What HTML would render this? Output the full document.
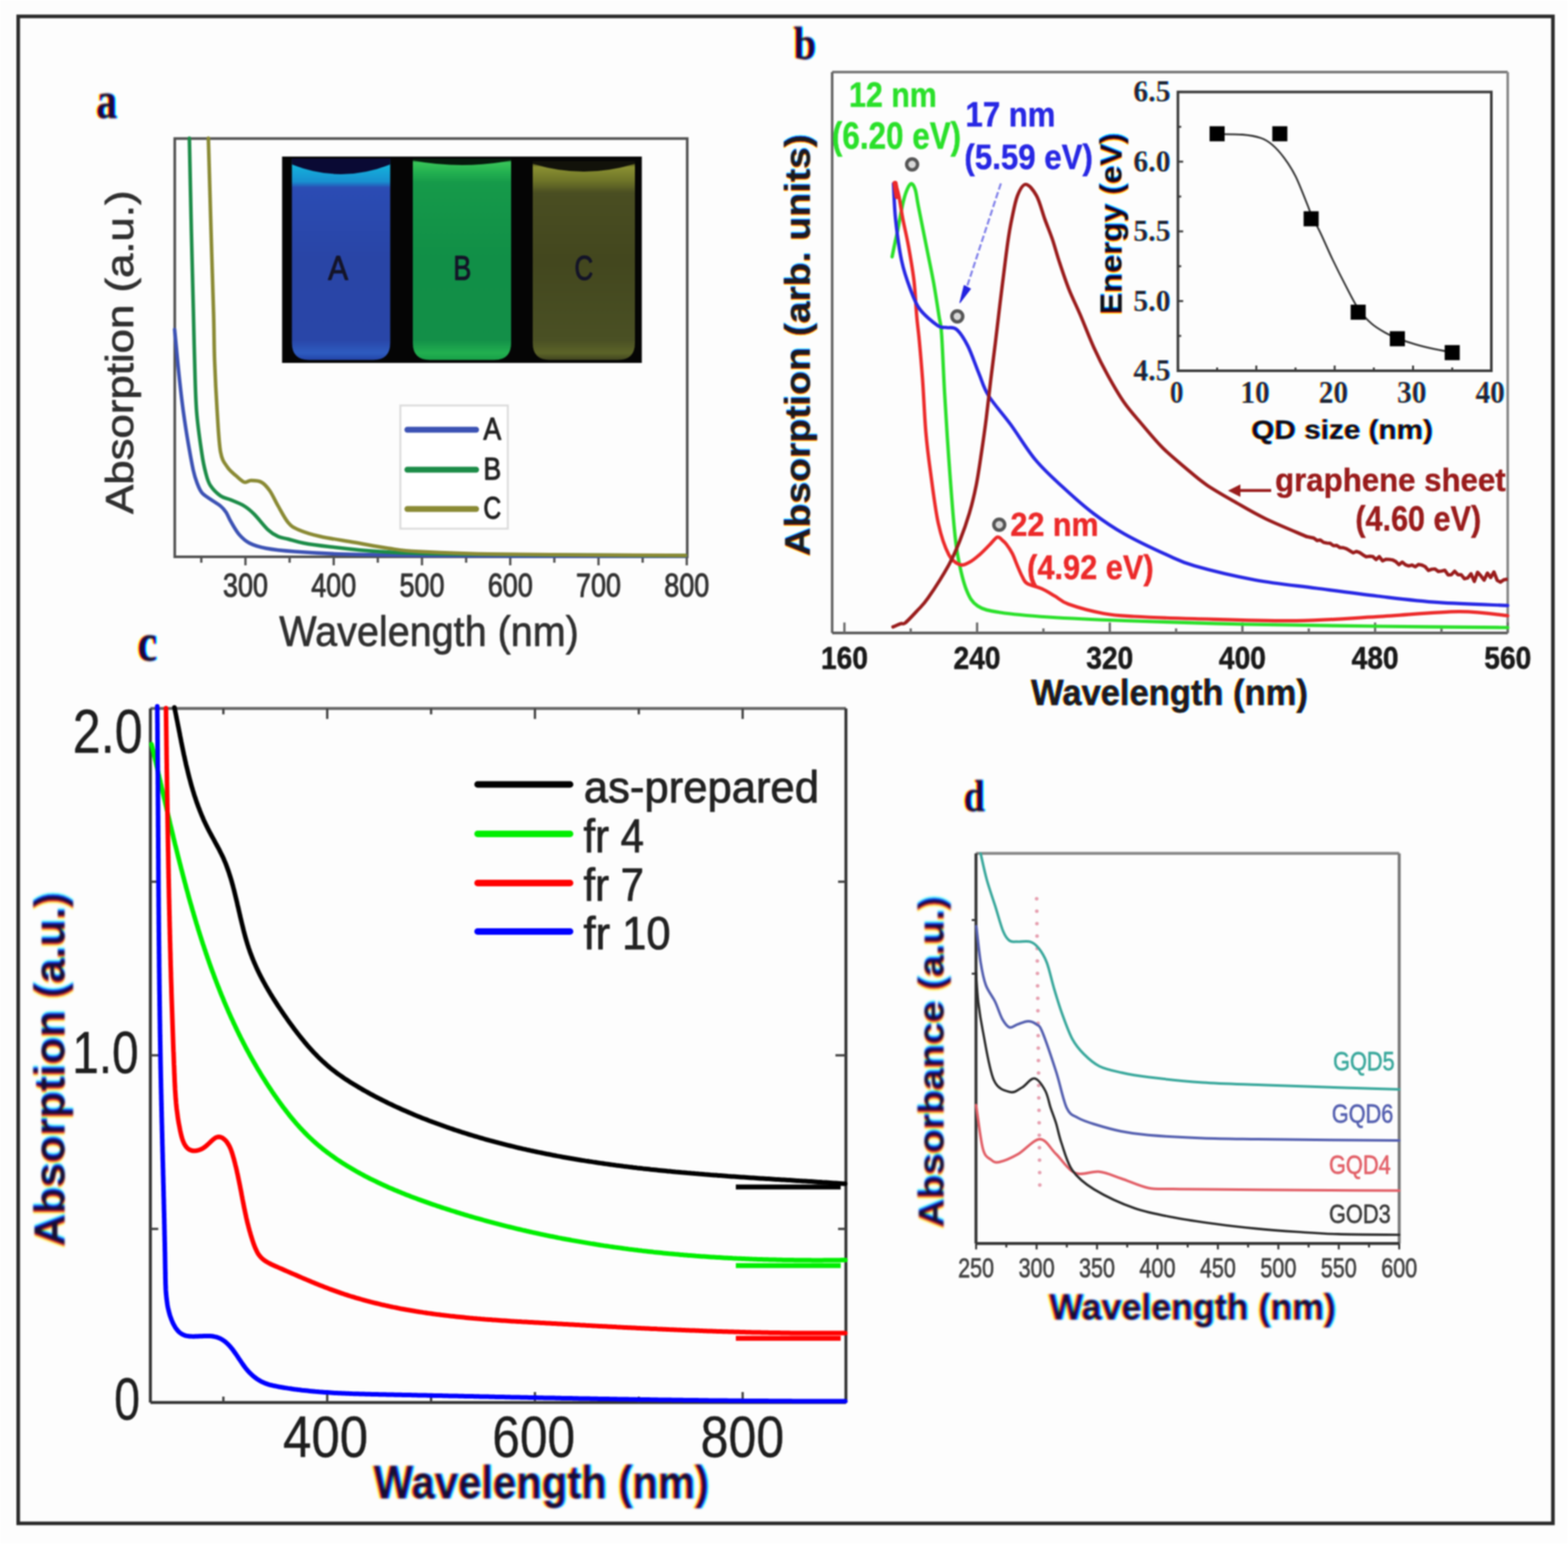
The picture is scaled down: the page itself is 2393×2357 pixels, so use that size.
<!DOCTYPE html>
<html><head><meta charset="utf-8"><title>Figure</title>
<style>
html,body{margin:0;padding:0;background:#fff;}
body{width:2393px;height:2357px;overflow:hidden;}
svg{display:block;filter:blur(1px);}
</style></head>
<body>
<svg width="2393" height="2357" viewBox="0 0 2393 2357">
<defs><filter id="blr" x="-5%" y="-20%" width="110%" height="140%"><feGaussianBlur stdDeviation="1.3"/></filter><filter id="blrB" x="-5%" y="-20%" width="110%" height="140%"><feGaussianBlur stdDeviation="0.8"/></filter><filter id="blrA" x="-5%" y="-20%" width="110%" height="140%"><feGaussianBlur stdDeviation="0.4"/></filter></defs>
<rect x="0" y="0" width="2393" height="2357" fill="#fdfdfd"/>
<rect x="27.8" y="25.0" width="2342.2" height="2300.5" fill="none" stroke="#2a2a2a" stroke-width="5.5" />
<g transform="translate(146.4,179.6)" font-family='"Liberation Serif", "Times New Roman", serif' font-weight="bold" font-size="77.19" >
<text x="0" y="0" transform="translate(2,0) scale(0.8344,1)" fill="rgb(20,255,255)" stroke="rgb(20,255,255)" stroke-width="0.80" stroke-linejoin="round" filter="url(#blrB)" style="mix-blend-mode:multiply">a</text>
<text x="0" y="0" transform="translate(0,0) scale(0.8344,1)" fill="rgb(255,15,255)" stroke="rgb(255,15,255)" stroke-width="0.80" stroke-linejoin="round" filter="url(#blrB)" style="mix-blend-mode:multiply">a</text>
<text x="0" y="0" transform="translate(-2,0) scale(0.8344,1)" fill="rgb(255,255,50)" stroke="rgb(255,255,50)" stroke-width="0.80" stroke-linejoin="round" filter="url(#blrB)" style="mix-blend-mode:multiply">a</text>
</g>
<rect x="430.5" y="239.0" width="549.0" height="315.0" fill="#050505" stroke="none" stroke-width="0" />
<defs><linearGradient id="gA" x1="0" y1="0" x2="0" y2="1">
<stop offset="0" stop-color="#0c0c38"/><stop offset="0.03" stop-color="#14b4dc"/><stop offset="0.115" stop-color="#1890d0"/><stop offset="0.145" stop-color="#2b4cb4"/><stop offset="0.5" stop-color="#2945a6"/><stop offset="0.9" stop-color="#2946a8"/><stop offset="0.965" stop-color="#2e5cc0"/><stop offset="1" stop-color="#2444a8"/></linearGradient><linearGradient id="gB" x1="0" y1="0" x2="0" y2="1">
<stop offset="0" stop-color="#0a3018"/><stop offset="0.02" stop-color="#38c458"/><stop offset="0.07" stop-color="#22b050"/><stop offset="0.12" stop-color="#169a4a"/><stop offset="0.5" stop-color="#118f47"/><stop offset="0.9" stop-color="#138f48"/><stop offset="0.965" stop-color="#22b050"/><stop offset="1" stop-color="#18a048"/></linearGradient><linearGradient id="gC" x1="0" y1="0" x2="0" y2="1">
<stop offset="0" stop-color="#202008"/><stop offset="0.03" stop-color="#8a9032"/><stop offset="0.1" stop-color="#6e7428"/><stop offset="0.16" stop-color="#4a4e22"/><stop offset="0.5" stop-color="#43471e"/><stop offset="0.9" stop-color="#4a5024"/><stop offset="0.965" stop-color="#5c6428"/><stop offset="1" stop-color="#404420"/></linearGradient></defs>
<path d="M445.5,242 L595.5,242 L595.5,523.5 Q595.5,549.5 569.5,549.5 L471.5,549.5 Q445.5,549.5 445.5,523.5 Z" fill="url(#gA)"/>
<path d="M445.5,242 L595.5,242 L595.5,251 Q520.5,281 445.5,251 Z" fill="#0a0a34"/>
<path d="M630,242 L780,242 L780,523.5 Q780,549.5 754,549.5 L656,549.5 Q630,549.5 630,523.5 Z" fill="url(#gB)"/>
<path d="M630,242 L780,242 L780,245 Q705.0,259 630,245 Z" fill="#061a0c"/>
<path d="M813,246 L969,246 L969,523.5 Q969,549.5 943,549.5 L839,549.5 Q813,549.5 813,523.5 Z" fill="url(#gC)"/>
<path d="M813,246 L969,246 L969,250 Q891.0,274 813,250 Z" fill="#12120a"/>
<text x="0" y="0" transform="translate(500.8,427.2) scale(0.8739,1)" font-family='"Liberation Sans", Arial, sans-serif' font-weight="normal" font-size="52.33" fill="#141428" stroke="#141428" stroke-width="1.50" stroke-linejoin="round" >A</text>
<text x="0" y="0" transform="translate(691.8,427.2) scale(0.7879,1)" font-family='"Liberation Sans", Arial, sans-serif' font-weight="normal" font-size="52.33" fill="#141428" stroke="#141428" stroke-width="1.50" stroke-linejoin="round" >B</text>
<text x="0" y="0" transform="translate(876.8,427.2) scale(0.7654,1)" font-family='"Liberation Sans", Arial, sans-serif' font-weight="normal" font-size="51.58" fill="#141428" stroke="#141428" stroke-width="1.50" stroke-linejoin="round" >C</text>
<rect x="266.7" y="211.5" width="782.1" height="638.5" fill="none" stroke="#505050" stroke-width="4" />
<line x1="307.2" y1="850.0" x2="307.2" y2="859.0" stroke="#505050" stroke-width="3.5" />
<line x1="374.6" y1="850.0" x2="374.6" y2="863.0" stroke="#505050" stroke-width="3.5" />
<line x1="442.0" y1="850.0" x2="442.0" y2="859.0" stroke="#505050" stroke-width="3.5" />
<line x1="509.3" y1="850.0" x2="509.3" y2="863.0" stroke="#505050" stroke-width="3.5" />
<line x1="576.6" y1="850.0" x2="576.6" y2="859.0" stroke="#505050" stroke-width="3.5" />
<line x1="644.0" y1="850.0" x2="644.0" y2="863.0" stroke="#505050" stroke-width="3.5" />
<line x1="711.4" y1="850.0" x2="711.4" y2="859.0" stroke="#505050" stroke-width="3.5" />
<line x1="778.7" y1="850.0" x2="778.7" y2="863.0" stroke="#505050" stroke-width="3.5" />
<line x1="846.0" y1="850.0" x2="846.0" y2="859.0" stroke="#505050" stroke-width="3.5" />
<line x1="913.4" y1="850.0" x2="913.4" y2="863.0" stroke="#505050" stroke-width="3.5" />
<line x1="980.8" y1="850.0" x2="980.8" y2="859.0" stroke="#505050" stroke-width="3.5" />
<line x1="1048.1" y1="850.0" x2="1048.1" y2="863.0" stroke="#505050" stroke-width="3.5" />
<text x="0" y="0" transform="translate(340.3,911.3) scale(0.8297,1)" font-family='"Liberation Sans", Arial, sans-serif' font-weight="normal" font-size="49.57" fill="#333" stroke="#333" stroke-width="1.40" stroke-linejoin="round" >300</text>
<text x="0" y="0" transform="translate(475.0,911.3) scale(0.8297,1)" font-family='"Liberation Sans", Arial, sans-serif' font-weight="normal" font-size="49.57" fill="#333" stroke="#333" stroke-width="1.40" stroke-linejoin="round" >400</text>
<text x="0" y="0" transform="translate(609.7,911.3) scale(0.8297,1)" font-family='"Liberation Sans", Arial, sans-serif' font-weight="normal" font-size="49.57" fill="#333" stroke="#333" stroke-width="1.40" stroke-linejoin="round" >500</text>
<text x="0" y="0" transform="translate(744.4,911.3) scale(0.8297,1)" font-family='"Liberation Sans", Arial, sans-serif' font-weight="normal" font-size="49.57" fill="#333" stroke="#333" stroke-width="1.40" stroke-linejoin="round" >600</text>
<text x="0" y="0" transform="translate(879.1,911.3) scale(0.8297,1)" font-family='"Liberation Sans", Arial, sans-serif' font-weight="normal" font-size="49.57" fill="#333" stroke="#333" stroke-width="1.40" stroke-linejoin="round" >700</text>
<text x="0" y="0" transform="translate(1013.8,911.3) scale(0.8297,1)" font-family='"Liberation Sans", Arial, sans-serif' font-weight="normal" font-size="49.57" fill="#333" stroke="#333" stroke-width="1.40" stroke-linejoin="round" >800</text>
<text x="0" y="0" transform="translate(426.3,985.5) scale(0.9408,1)" font-family='"Liberation Sans", Arial, sans-serif' font-weight="normal" font-size="64.14" fill="#303030" stroke="#303030" stroke-width="1.00" stroke-linejoin="round" >Wavelength (nm)</text>
<text x="0" y="0" transform="translate(202.9,784.5) rotate(-90) scale(1.1266,1)" font-family='"Liberation Sans", Arial, sans-serif' font-weight="normal" font-size="59.31" fill="#303030" stroke="#303030" stroke-width="1.00" stroke-linejoin="round" >Absorption (a.u.)</text>
<rect x="611.0" y="619.0" width="164.0" height="188.0" fill="#fff" stroke="#dcdcdc" stroke-width="3" />
<line x1="621.7" y1="656.0" x2="726.6" y2="656.0" stroke="#3c52b4" stroke-width="9" stroke-linecap="round"/>
<text x="0" y="0" transform="translate(737.8,670.8) scale(0.8344,1)" font-family='"Liberation Sans", Arial, sans-serif' font-weight="normal" font-size="48.69" fill="#222" stroke="#222" stroke-width="1.50" stroke-linejoin="round" >A</text>
<line x1="621.7" y1="717.0" x2="726.6" y2="717.0" stroke="#1c8c48" stroke-width="9" stroke-linecap="round"/>
<text x="0" y="0" transform="translate(737.8,731.8) scale(0.8344,1)" font-family='"Liberation Sans", Arial, sans-serif' font-weight="normal" font-size="48.69" fill="#222" stroke="#222" stroke-width="1.50" stroke-linejoin="round" >B</text>
<line x1="621.7" y1="777.0" x2="726.6" y2="777.0" stroke="#8a8a34" stroke-width="9" stroke-linecap="round"/>
<text x="0" y="0" transform="translate(737.8,791.8) scale(0.7821,1)" font-family='"Liberation Sans", Arial, sans-serif' font-weight="normal" font-size="47.99" fill="#222" stroke="#222" stroke-width="1.50" stroke-linejoin="round" >C</text>
<path d="M266.5,503.0 C267.1,509.2 268.8,527.2 270.0,540.0 C271.2,552.8 272.4,565.4 274.0,580.0 C275.6,594.6 277.5,611.8 279.7,627.6 C281.9,643.4 284.4,659.9 287.0,675.0 C289.6,690.1 292.7,707.5 295.0,718.0 C297.3,728.5 298.8,732.3 301.0,738.0 C303.2,743.7 304.7,748.0 308.0,752.0 C311.3,756.0 316.2,758.6 321.0,762.0 C325.8,765.4 332.6,769.2 336.6,772.5 C340.6,775.8 342.4,778.1 345.0,782.0 C347.6,785.9 348.7,790.0 352.0,795.7 C355.3,801.4 360.2,810.5 365.0,816.0 C369.8,821.5 373.8,825.5 380.6,829.0 C387.4,832.5 394.4,834.8 406.0,837.0 C417.6,839.2 429.7,840.5 450.0,842.0 C470.3,843.5 494.7,845.0 528.0,846.0 C561.3,847.0 604.7,847.5 650.0,848.0 C695.3,848.5 734.0,848.8 800.0,849.0 C866.0,849.2 1005.0,849.0 1046.0,849.0" fill="none" stroke="#3c52b4" stroke-width="5.5" stroke-linejoin="round" stroke-linecap="round" />
<path d="M289.0,211.0 C289.5,234.2 291.0,306.8 292.0,350.0 C293.0,393.2 294.2,436.7 295.0,470.0 C295.8,503.3 296.2,523.7 297.0,550.0 C297.8,576.3 298.2,603.9 300.0,627.6 C301.8,651.3 305.7,676.3 308.0,692.0 C310.3,707.7 311.8,713.8 314.0,722.0 C316.2,730.2 317.2,735.2 321.0,741.0 C324.8,746.8 331.4,753.3 336.6,757.0 C341.8,760.7 346.0,760.4 352.0,763.0 C358.0,765.6 366.8,768.8 372.8,772.5 C378.8,776.2 382.0,779.0 388.0,785.0 C394.0,791.0 402.9,803.0 409.0,808.7 C415.1,814.4 419.3,816.6 424.5,819.0 C429.7,821.4 433.6,821.3 440.0,823.0 C446.4,824.7 452.7,827.1 463.0,829.0 C473.3,830.9 482.6,832.3 502.0,834.5 C521.5,836.7 546.7,840.1 579.7,842.0 C612.7,843.9 622.3,845.0 700.0,846.0 C777.7,847.0 988.3,847.7 1046.0,848.0" fill="none" stroke="#1c8c48" stroke-width="5.5" stroke-linejoin="round" stroke-linecap="round" />
<path d="M318.0,211.0 C318.7,234.2 320.7,305.2 322.0,350.0 C323.3,394.8 325.1,446.7 326.0,480.0 C326.9,513.3 326.6,525.4 327.5,550.0 C328.4,574.6 329.9,604.3 331.4,627.6 C332.9,650.9 334.0,675.8 336.6,690.0 C339.2,704.2 343.1,707.0 347.0,713.0 C350.9,719.0 355.7,722.2 360.0,726.0 C364.3,729.8 369.0,734.7 372.8,736.0 C376.6,737.3 378.7,733.6 383.0,733.6 C387.3,733.6 393.9,733.4 398.7,736.0 C403.5,738.6 407.3,742.9 411.6,749.0 C415.9,755.1 419.8,764.3 424.5,772.5 C429.2,780.7 434.8,792.0 440.0,798.0 C445.2,804.0 447.4,805.2 455.6,808.7 C463.8,812.2 474.8,815.8 489.0,819.0 C503.2,822.2 523.7,825.0 541.0,828.0 C558.3,831.0 576.2,834.7 592.7,837.0 C609.2,839.3 612.1,840.5 640.0,842.0 C667.9,843.5 692.3,845.0 760.0,846.0 C827.7,847.0 998.3,847.7 1046.0,848.0" fill="none" stroke="#8a8a34" stroke-width="5.5" stroke-linejoin="round" stroke-linecap="round" />
<g transform="translate(1210.9,89.6)" font-family='"Liberation Serif", "Times New Roman", serif' font-weight="bold" font-size="69.60" >
<text x="0" y="0" transform="translate(2,0) scale(0.8890,1)" fill="rgb(20,255,255)" stroke="rgb(20,255,255)" stroke-width="0.80" stroke-linejoin="round" filter="url(#blrB)" style="mix-blend-mode:multiply">b</text>
<text x="0" y="0" transform="translate(0,0) scale(0.8890,1)" fill="rgb(255,15,255)" stroke="rgb(255,15,255)" stroke-width="0.80" stroke-linejoin="round" filter="url(#blrB)" style="mix-blend-mode:multiply">b</text>
<text x="0" y="0" transform="translate(-2,0) scale(0.8890,1)" fill="rgb(255,255,50)" stroke="rgb(255,255,50)" stroke-width="0.80" stroke-linejoin="round" filter="url(#blrB)" style="mix-blend-mode:multiply">b</text>
</g>
<line x1="1270.0" y1="110.0" x2="2301.0" y2="110.0" stroke="#777" stroke-width="4" />
<line x1="2301.0" y1="110.0" x2="2301.0" y2="966.3" stroke="#888" stroke-width="4" />
<line x1="1270.0" y1="110.0" x2="1270.0" y2="966.3" stroke="#666" stroke-width="4" />
<line x1="1270.0" y1="966.3" x2="2301.0" y2="966.3" stroke="#555" stroke-width="4" />
<line x1="1288.7" y1="966.3" x2="1288.7" y2="950.3" stroke="#6a6a6a" stroke-width="3.5" />
<line x1="1389.9" y1="966.3" x2="1389.9" y2="959.3" stroke="#6a6a6a" stroke-width="3.5" />
<line x1="1491.2" y1="966.3" x2="1491.2" y2="950.3" stroke="#6a6a6a" stroke-width="3.5" />
<line x1="1592.4" y1="966.3" x2="1592.4" y2="959.3" stroke="#6a6a6a" stroke-width="3.5" />
<line x1="1693.7" y1="966.3" x2="1693.7" y2="950.3" stroke="#6a6a6a" stroke-width="3.5" />
<line x1="1794.9" y1="966.3" x2="1794.9" y2="959.3" stroke="#6a6a6a" stroke-width="3.5" />
<line x1="1896.1" y1="966.3" x2="1896.1" y2="950.3" stroke="#6a6a6a" stroke-width="3.5" />
<line x1="1997.4" y1="966.3" x2="1997.4" y2="959.3" stroke="#6a6a6a" stroke-width="3.5" />
<line x1="2098.6" y1="966.3" x2="2098.6" y2="950.3" stroke="#6a6a6a" stroke-width="3.5" />
<line x1="2199.9" y1="966.3" x2="2199.9" y2="959.3" stroke="#6a6a6a" stroke-width="3.5" />
<line x1="2301.1" y1="966.3" x2="2301.1" y2="950.3" stroke="#6a6a6a" stroke-width="3.5" />
<text x="0" y="0" transform="translate(1252.9,1021.2) scale(0.8877,1)" font-family='"Liberation Sans", Arial, sans-serif' font-weight="bold" font-size="48.42" fill="#1a1a1a" stroke="#1a1a1a" stroke-width="0.80" stroke-linejoin="round" >160</text>
<text x="0" y="0" transform="translate(1455.3,1021.2) scale(0.8877,1)" font-family='"Liberation Sans", Arial, sans-serif' font-weight="bold" font-size="48.42" fill="#1a1a1a" stroke="#1a1a1a" stroke-width="0.80" stroke-linejoin="round" >240</text>
<text x="0" y="0" transform="translate(1657.8,1021.2) scale(0.8877,1)" font-family='"Liberation Sans", Arial, sans-serif' font-weight="bold" font-size="48.42" fill="#1a1a1a" stroke="#1a1a1a" stroke-width="0.80" stroke-linejoin="round" >320</text>
<text x="0" y="0" transform="translate(1860.3,1021.2) scale(0.8877,1)" font-family='"Liberation Sans", Arial, sans-serif' font-weight="bold" font-size="48.42" fill="#1a1a1a" stroke="#1a1a1a" stroke-width="0.80" stroke-linejoin="round" >400</text>
<text x="0" y="0" transform="translate(2062.8,1021.2) scale(0.8877,1)" font-family='"Liberation Sans", Arial, sans-serif' font-weight="bold" font-size="48.42" fill="#1a1a1a" stroke="#1a1a1a" stroke-width="0.80" stroke-linejoin="round" >480</text>
<text x="0" y="0" transform="translate(2265.3,1021.2) scale(0.8877,1)" font-family='"Liberation Sans", Arial, sans-serif' font-weight="bold" font-size="48.42" fill="#1a1a1a" stroke="#1a1a1a" stroke-width="0.80" stroke-linejoin="round" >560</text>
<g transform="translate(1573.4,1076.3)" font-family='"Liberation Sans", Arial, sans-serif' font-weight="bold" font-size="55.31" >
<text x="0" y="0" transform="translate(1.2,0) scale(0.9528,1)" fill="rgb(26,255,255)" stroke="rgb(26,255,255)" stroke-width="0.80" stroke-linejoin="round" filter="url(#blrA)" style="mix-blend-mode:multiply">Wavelength (nm)</text>
<text x="0" y="0" transform="translate(0,0) scale(0.9528,1)" fill="rgb(255,26,255)" stroke="rgb(255,26,255)" stroke-width="0.80" stroke-linejoin="round" filter="url(#blrA)" style="mix-blend-mode:multiply">Wavelength (nm)</text>
<text x="0" y="0" transform="translate(-1.2,0) scale(0.9528,1)" fill="rgb(255,255,30)" stroke="rgb(255,255,30)" stroke-width="0.80" stroke-linejoin="round" filter="url(#blrA)" style="mix-blend-mode:multiply">Wavelength (nm)</text>
</g>
<g transform="translate(1235.6,848.8) rotate(-90)" font-family='"Liberation Sans", Arial, sans-serif' font-weight="bold" font-size="54.34" >
<text x="0" y="0" transform="translate(1.2,0) scale(1.0996,1)" fill="rgb(26,255,255)" stroke="rgb(26,255,255)" stroke-width="0.80" stroke-linejoin="round" filter="url(#blrA)" style="mix-blend-mode:multiply">Absorption (arb. units)</text>
<text x="0" y="0" transform="translate(0,0) scale(1.0996,1)" fill="rgb(255,26,255)" stroke="rgb(255,26,255)" stroke-width="0.80" stroke-linejoin="round" filter="url(#blrA)" style="mix-blend-mode:multiply">Absorption (arb. units)</text>
<text x="0" y="0" transform="translate(-1.2,0) scale(1.0996,1)" fill="rgb(255,255,30)" stroke="rgb(255,255,30)" stroke-width="0.80" stroke-linejoin="round" filter="url(#blrA)" style="mix-blend-mode:multiply">Absorption (arb. units)</text>
</g>
<rect x="1797.7" y="140.4" width="478.3" height="425.6" fill="none" stroke="#3a3a3a" stroke-width="4" />
<line x1="1797.7" y1="566.0" x2="1797.7" y2="558.0" stroke="#3a3a3a" stroke-width="3" />
<line x1="1857.5" y1="566.0" x2="1857.5" y2="561.0" stroke="#3a3a3a" stroke-width="3" />
<line x1="1917.3" y1="566.0" x2="1917.3" y2="558.0" stroke="#3a3a3a" stroke-width="3" />
<line x1="1977.1" y1="566.0" x2="1977.1" y2="561.0" stroke="#3a3a3a" stroke-width="3" />
<line x1="2036.9" y1="566.0" x2="2036.9" y2="558.0" stroke="#3a3a3a" stroke-width="3" />
<line x1="2096.7" y1="566.0" x2="2096.7" y2="561.0" stroke="#3a3a3a" stroke-width="3" />
<line x1="2156.5" y1="566.0" x2="2156.5" y2="558.0" stroke="#3a3a3a" stroke-width="3" />
<line x1="2216.3" y1="566.0" x2="2216.3" y2="561.0" stroke="#3a3a3a" stroke-width="3" />
<line x1="2276.1" y1="566.0" x2="2276.1" y2="558.0" stroke="#3a3a3a" stroke-width="3" />
<line x1="1797.7" y1="566.0" x2="1805.7" y2="566.0" stroke="#3a3a3a" stroke-width="3" />
<line x1="1797.7" y1="512.8" x2="1802.7" y2="512.8" stroke="#3a3a3a" stroke-width="3" />
<line x1="1797.7" y1="459.6" x2="1805.7" y2="459.6" stroke="#3a3a3a" stroke-width="3" />
<line x1="1797.7" y1="406.4" x2="1802.7" y2="406.4" stroke="#3a3a3a" stroke-width="3" />
<line x1="1797.7" y1="353.2" x2="1805.7" y2="353.2" stroke="#3a3a3a" stroke-width="3" />
<line x1="1797.7" y1="300.0" x2="1802.7" y2="300.0" stroke="#3a3a3a" stroke-width="3" />
<line x1="1797.7" y1="246.8" x2="1805.7" y2="246.8" stroke="#3a3a3a" stroke-width="3" />
<line x1="1797.7" y1="193.6" x2="1802.7" y2="193.6" stroke="#3a3a3a" stroke-width="3" />
<line x1="1797.7" y1="140.4" x2="1805.7" y2="140.4" stroke="#3a3a3a" stroke-width="3" />
<path d="M1855.1,204.8 C1861.9,204.9 1884.7,204.5 1896.2,205.5 C1907.8,206.5 1916.8,208.2 1924.4,210.8 C1932.0,213.4 1936.1,216.3 1941.9,221.3 C1947.8,226.3 1953.6,232.8 1959.5,240.7 C1965.4,248.6 1971.2,257.1 1977.1,268.8 C1983.0,280.5 1990.6,301.0 1994.7,311.0 C1998.8,321.0 1998.2,321.0 2001.7,328.6 C2005.2,336.2 2010.5,345.7 2015.8,356.8 C2021.1,367.9 2027.0,382.0 2033.4,395.5 C2039.9,409.0 2047.8,424.8 2054.5,437.7 C2061.2,450.6 2067.4,463.4 2073.8,472.8 C2080.2,482.2 2086.4,488.1 2093.2,494.0 C2099.9,499.9 2107.9,504.3 2114.3,508.0 C2120.8,511.7 2124.3,513.2 2131.9,516.1 C2139.5,519.0 2150.6,522.9 2160.0,525.6 C2169.4,528.4 2178.8,530.6 2188.2,532.6 C2197.6,534.6 2211.6,537.0 2216.3,537.9" fill="none" stroke="#333" stroke-width="2.8"/>
<rect x="1846.0" y="192.7" width="23.0" height="23.0" fill="#000" stroke="none" stroke-width="0" />
<rect x="1941.7" y="192.7" width="23.0" height="23.0" fill="#000" stroke="none" stroke-width="0" />
<rect x="1989.5" y="322.5" width="23.0" height="23.0" fill="#000" stroke="none" stroke-width="0" />
<rect x="2061.3" y="465.1" width="23.0" height="23.0" fill="#000" stroke="none" stroke-width="0" />
<rect x="2121.1" y="505.6" width="23.0" height="23.0" fill="#000" stroke="none" stroke-width="0" />
<rect x="2204.8" y="526.8" width="23.0" height="23.0" fill="#000" stroke="none" stroke-width="0" />
<g transform="translate(1729.6,155.4)" font-family='"Liberation Serif", "Times New Roman", serif' font-weight="bold" font-size="46.83" >
<text x="0" y="0" transform="translate(1.2,0) scale(0.9704,1)" fill="rgb(28,255,255)" filter="url(#blrA)" style="mix-blend-mode:multiply">6.5</text>
<text x="0" y="0" transform="translate(0,0) scale(0.9704,1)" fill="rgb(255,40,255)" filter="url(#blrA)" style="mix-blend-mode:multiply">6.5</text>
<text x="0" y="0" transform="translate(-1.2,0) scale(0.9704,1)" fill="rgb(255,255,54)" filter="url(#blrA)" style="mix-blend-mode:multiply">6.5</text>
</g>
<g transform="translate(1729.6,261.8)" font-family='"Liberation Serif", "Times New Roman", serif' font-weight="bold" font-size="46.62" >
<text x="0" y="0" transform="translate(1.2,0) scale(0.9748,1)" fill="rgb(28,255,255)" filter="url(#blrA)" style="mix-blend-mode:multiply">6.0</text>
<text x="0" y="0" transform="translate(0,0) scale(0.9748,1)" fill="rgb(255,40,255)" filter="url(#blrA)" style="mix-blend-mode:multiply">6.0</text>
<text x="0" y="0" transform="translate(-1.2,0) scale(0.9748,1)" fill="rgb(255,255,54)" filter="url(#blrA)" style="mix-blend-mode:multiply">6.0</text>
</g>
<g transform="translate(1729.6,368.2)" font-family='"Liberation Serif", "Times New Roman", serif' font-weight="bold" font-size="47.33" >
<text x="0" y="0" transform="translate(1.2,0) scale(0.9601,1)" fill="rgb(28,255,255)" filter="url(#blrA)" style="mix-blend-mode:multiply">5.5</text>
<text x="0" y="0" transform="translate(0,0) scale(0.9601,1)" fill="rgb(255,40,255)" filter="url(#blrA)" style="mix-blend-mode:multiply">5.5</text>
<text x="0" y="0" transform="translate(-1.2,0) scale(0.9601,1)" fill="rgb(255,255,54)" filter="url(#blrA)" style="mix-blend-mode:multiply">5.5</text>
</g>
<g transform="translate(1729.6,474.6)" font-family='"Liberation Serif", "Times New Roman", serif' font-weight="bold" font-size="46.62" >
<text x="0" y="0" transform="translate(1.2,0) scale(0.9748,1)" fill="rgb(28,255,255)" filter="url(#blrA)" style="mix-blend-mode:multiply">5.0</text>
<text x="0" y="0" transform="translate(0,0) scale(0.9748,1)" fill="rgb(255,40,255)" filter="url(#blrA)" style="mix-blend-mode:multiply">5.0</text>
<text x="0" y="0" transform="translate(-1.2,0) scale(0.9748,1)" fill="rgb(255,255,54)" filter="url(#blrA)" style="mix-blend-mode:multiply">5.0</text>
</g>
<g transform="translate(1729.6,581.0)" font-family='"Liberation Serif", "Times New Roman", serif' font-weight="bold" font-size="47.11" >
<text x="0" y="0" transform="translate(1.2,0) scale(0.9645,1)" fill="rgb(28,255,255)" filter="url(#blrA)" style="mix-blend-mode:multiply">4.5</text>
<text x="0" y="0" transform="translate(0,0) scale(0.9645,1)" fill="rgb(255,40,255)" filter="url(#blrA)" style="mix-blend-mode:multiply">4.5</text>
<text x="0" y="0" transform="translate(-1.2,0) scale(0.9645,1)" fill="rgb(255,255,54)" filter="url(#blrA)" style="mix-blend-mode:multiply">4.5</text>
</g>
<g transform="translate(1785.3,614.5)" font-family='"Liberation Serif", "Times New Roman", serif' font-weight="bold" font-size="48.87" >
<text x="0" y="0" transform="translate(1.2,0) scale(0.8512,1)" fill="rgb(28,255,255)" filter="url(#blrA)" style="mix-blend-mode:multiply">0</text>
<text x="0" y="0" transform="translate(0,0) scale(0.8512,1)" fill="rgb(255,40,255)" filter="url(#blrA)" style="mix-blend-mode:multiply">0</text>
<text x="0" y="0" transform="translate(-1.2,0) scale(0.8512,1)" fill="rgb(255,255,54)" filter="url(#blrA)" style="mix-blend-mode:multiply">0</text>
</g>
<g transform="translate(1892.9,614.5)" font-family='"Liberation Serif", "Times New Roman", serif' font-weight="bold" font-size="48.87" >
<text x="0" y="0" transform="translate(1.2,0) scale(0.9167,1)" fill="rgb(28,255,255)" filter="url(#blrA)" style="mix-blend-mode:multiply">10</text>
<text x="0" y="0" transform="translate(0,0) scale(0.9167,1)" fill="rgb(255,40,255)" filter="url(#blrA)" style="mix-blend-mode:multiply">10</text>
<text x="0" y="0" transform="translate(-1.2,0) scale(0.9167,1)" fill="rgb(255,255,54)" filter="url(#blrA)" style="mix-blend-mode:multiply">10</text>
</g>
<g transform="translate(2012.5,614.5)" font-family='"Liberation Serif", "Times New Roman", serif' font-weight="bold" font-size="48.87" >
<text x="0" y="0" transform="translate(1.2,0) scale(0.9167,1)" fill="rgb(28,255,255)" filter="url(#blrA)" style="mix-blend-mode:multiply">20</text>
<text x="0" y="0" transform="translate(0,0) scale(0.9167,1)" fill="rgb(255,40,255)" filter="url(#blrA)" style="mix-blend-mode:multiply">20</text>
<text x="0" y="0" transform="translate(-1.2,0) scale(0.9167,1)" fill="rgb(255,255,54)" filter="url(#blrA)" style="mix-blend-mode:multiply">20</text>
</g>
<g transform="translate(2132.1,614.5)" font-family='"Liberation Serif", "Times New Roman", serif' font-weight="bold" font-size="48.87" >
<text x="0" y="0" transform="translate(1.2,0) scale(0.9167,1)" fill="rgb(28,255,255)" filter="url(#blrA)" style="mix-blend-mode:multiply">30</text>
<text x="0" y="0" transform="translate(0,0) scale(0.9167,1)" fill="rgb(255,40,255)" filter="url(#blrA)" style="mix-blend-mode:multiply">30</text>
<text x="0" y="0" transform="translate(-1.2,0) scale(0.9167,1)" fill="rgb(255,255,54)" filter="url(#blrA)" style="mix-blend-mode:multiply">30</text>
</g>
<g transform="translate(2251.7,614.5)" font-family='"Liberation Serif", "Times New Roman", serif' font-weight="bold" font-size="48.87" >
<text x="0" y="0" transform="translate(1.2,0) scale(0.9167,1)" fill="rgb(28,255,255)" filter="url(#blrA)" style="mix-blend-mode:multiply">40</text>
<text x="0" y="0" transform="translate(0,0) scale(0.9167,1)" fill="rgb(255,40,255)" filter="url(#blrA)" style="mix-blend-mode:multiply">40</text>
<text x="0" y="0" transform="translate(-1.2,0) scale(0.9167,1)" fill="rgb(255,255,54)" filter="url(#blrA)" style="mix-blend-mode:multiply">40</text>
</g>
<g transform="translate(1909.5,669.7)" font-family='"Liberation Sans", Arial, sans-serif' font-weight="bold" font-size="40.55" >
<text x="0" y="0" transform="translate(1.5,0) scale(1.1192,1)" fill="rgb(17,255,255)" stroke="rgb(17,255,255)" stroke-width="0.60" stroke-linejoin="round" filter="url(#blrA)" style="mix-blend-mode:multiply">QD size (nm)</text>
<text x="0" y="0" transform="translate(0,0) scale(1.1192,1)" fill="rgb(255,17,255)" stroke="rgb(255,17,255)" stroke-width="0.60" stroke-linejoin="round" filter="url(#blrA)" style="mix-blend-mode:multiply">QD size (nm)</text>
<text x="0" y="0" transform="translate(-1.5,0) scale(1.1192,1)" fill="rgb(255,255,25)" stroke="rgb(255,255,25)" stroke-width="0.60" stroke-linejoin="round" filter="url(#blrA)" style="mix-blend-mode:multiply">QD size (nm)</text>
</g>
<g transform="translate(1711.7,480.6) rotate(-90)" font-family='"Liberation Sans", Arial, sans-serif' font-weight="bold" font-size="46.07" >
<text x="0" y="0" transform="translate(1.5,0) scale(1.0840,1)" fill="rgb(17,255,255)" stroke="rgb(17,255,255)" stroke-width="0.60" stroke-linejoin="round" filter="url(#blrA)" style="mix-blend-mode:multiply">Energy (eV)</text>
<text x="0" y="0" transform="translate(0,0) scale(1.0840,1)" fill="rgb(255,17,255)" stroke="rgb(255,17,255)" stroke-width="0.60" stroke-linejoin="round" filter="url(#blrA)" style="mix-blend-mode:multiply">Energy (eV)</text>
<text x="0" y="0" transform="translate(-1.5,0) scale(1.0840,1)" fill="rgb(255,255,25)" stroke="rgb(255,255,25)" stroke-width="0.60" stroke-linejoin="round" filter="url(#blrA)" style="mix-blend-mode:multiply">Energy (eV)</text>
</g>
<path d="M1361.5,392.0 C1362.2,388.3 1364.6,376.7 1366.0,370.0 C1367.4,363.3 1368.7,358.7 1370.0,352.0 C1371.3,345.3 1372.5,337.7 1374.0,330.0 C1375.5,322.3 1377.2,313.0 1379.0,306.0 C1380.8,299.0 1383.0,292.3 1385.0,288.0 C1387.0,283.7 1389.0,280.1 1391.0,280.4 C1393.0,280.7 1395.3,284.4 1397.0,290.0 C1398.7,295.6 1398.6,299.5 1401.4,314.0 C1404.2,328.5 1410.2,357.7 1414.0,377.0 C1417.8,396.3 1421.3,412.1 1424.5,429.6 C1427.7,447.1 1430.9,468.6 1433.0,482.0 C1435.1,495.4 1435.6,490.3 1437.0,510.0 C1438.4,529.7 1439.8,568.3 1441.6,600.0 C1443.4,631.7 1445.6,666.7 1448.0,700.0 C1450.4,733.3 1453.5,775.0 1455.8,800.0 C1458.1,825.0 1458.8,833.3 1462.0,850.0 C1465.2,866.7 1469.7,887.5 1474.7,900.0 C1479.7,912.5 1483.3,919.2 1492.0,925.0 C1500.7,930.8 1508.7,932.2 1526.7,935.0 C1544.7,937.8 1568.5,939.9 1600.0,942.0 C1631.5,944.1 1666.0,945.7 1716.0,947.5 C1766.0,949.3 1836.0,951.6 1900.0,953.0 C1964.0,954.4 2033.2,955.2 2100.0,956.0 C2166.8,956.8 2267.5,957.7 2301.0,958.0" fill="none" stroke="#2ae02a" stroke-width="5.2" stroke-linejoin="round" stroke-linecap="round" />
<path d="M1366.8,280.4 C1367.7,283.7 1370.1,290.9 1372.0,300.0 C1373.9,309.1 1375.5,322.2 1378.0,335.0 C1380.5,347.8 1383.9,361.2 1386.7,377.0 C1389.5,392.8 1393.0,412.1 1395.0,429.6 C1397.0,447.1 1397.7,466.9 1399.0,482.0 C1400.3,497.1 1401.5,503.7 1403.0,520.0 C1404.5,536.3 1406.3,556.7 1408.0,580.0 C1409.7,603.3 1411.0,636.7 1413.0,660.0 C1415.0,683.3 1416.8,696.8 1420.0,720.0 C1423.2,743.2 1427.3,777.9 1432.0,799.0 C1436.7,820.1 1442.5,836.2 1448.0,846.7 C1453.5,857.2 1459.7,860.1 1465.0,862.0 C1470.3,863.9 1475.0,860.5 1480.0,858.0 C1485.0,855.5 1490.0,851.0 1495.0,846.7 C1500.0,842.4 1505.5,836.5 1510.0,832.0 C1514.5,827.5 1518.7,821.2 1522.0,820.0 C1525.3,818.8 1527.7,823.2 1530.0,825.0 C1532.3,826.8 1533.5,827.7 1536.0,831.0 C1538.5,834.3 1542.3,839.8 1545.0,845.0 C1547.7,850.2 1549.5,856.2 1552.0,862.0 C1554.5,867.8 1557.4,875.2 1560.0,880.0 C1562.6,884.8 1562.6,887.7 1567.6,890.8 C1572.5,893.9 1582.6,895.5 1589.7,898.7 C1596.8,901.9 1603.2,906.1 1610.0,910.0 C1616.8,913.9 1618.4,917.9 1630.7,922.3 C1643.0,926.7 1667.5,933.4 1684.0,936.5 C1700.5,939.6 1706.8,939.7 1730.0,941.0 C1753.2,942.3 1781.7,943.4 1823.0,944.5 C1864.3,945.6 1931.5,948.1 1978.0,947.6 C2024.5,947.1 2060.6,943.7 2102.0,941.4 C2143.4,939.1 2193.4,933.8 2226.6,933.6 C2259.8,933.4 2288.6,938.9 2301.0,940.0" fill="none" stroke="#ec2a2a" stroke-width="5.2" stroke-linejoin="round" stroke-linecap="round" />
<path d="M1363.6,280.4 C1364.1,289.5 1364.7,315.4 1366.8,335.0 C1368.9,354.6 1372.3,380.5 1376.0,398.0 C1379.7,415.5 1384.2,427.7 1388.8,440.0 C1393.4,452.3 1396.5,462.1 1403.5,471.6 C1410.5,481.1 1423.9,492.1 1430.8,496.8 C1437.7,501.5 1440.1,499.0 1445.0,500.0 C1449.9,501.0 1454.7,498.3 1460.0,503.0 C1465.3,507.7 1471.3,516.8 1477.0,528.0 C1482.7,539.2 1488.6,557.3 1493.9,570.0 C1499.2,582.7 1500.5,591.0 1508.6,604.0 C1516.7,617.0 1530.5,631.7 1542.4,648.0 C1554.3,664.3 1566.9,685.9 1580.0,701.7 C1593.1,717.5 1606.2,729.1 1621.0,742.7 C1635.8,756.4 1652.7,771.6 1668.5,783.6 C1684.3,795.6 1697.2,804.5 1715.8,815.0 C1734.4,825.5 1762.1,838.6 1780.0,846.7 C1797.9,854.8 1800.3,857.3 1823.0,863.8 C1845.7,870.3 1885.0,879.8 1916.0,885.5 C1947.0,891.2 1977.9,893.9 2009.0,898.0 C2040.1,902.1 2071.3,906.4 2102.4,910.0 C2133.5,913.6 2162.4,917.3 2195.5,919.7 C2228.6,922.1 2283.4,923.5 2301.0,924.3" fill="none" stroke="#2828e4" stroke-width="5.2" stroke-linejoin="round" stroke-linecap="round" />
<line x1="1366.0" y1="280.0" x2="1369.0" y2="300.0" stroke="#ec2a2a" stroke-width="8" stroke-linecap="round"/>
<path d="M1362.8,957.0 C1364.8,956.2 1371.8,953.0 1375.0,952.0 C1378.2,951.0 1377.5,954.0 1381.7,950.7 C1385.9,947.4 1394.2,938.3 1400.0,932.0 C1405.8,925.7 1408.4,924.4 1416.4,912.8 C1424.4,901.2 1439.9,877.0 1448.0,862.4 C1456.1,847.8 1459.8,838.1 1465.0,825.0 C1470.2,811.9 1475.2,797.8 1479.4,783.6 C1483.6,769.4 1486.9,755.6 1490.0,740.0 C1493.1,724.4 1495.5,706.7 1498.0,690.0 C1500.5,673.3 1502.7,658.3 1505.0,640.0 C1507.3,621.7 1509.7,599.3 1512.0,580.0 C1514.3,560.7 1516.7,543.2 1519.0,524.0 C1521.3,504.8 1523.9,482.5 1526.0,465.0 C1528.1,447.5 1529.7,434.8 1531.7,419.0 C1533.7,403.2 1536.0,384.0 1538.0,370.0 C1540.0,356.0 1541.5,346.8 1544.0,335.0 C1546.5,323.2 1549.2,307.9 1552.7,299.0 C1556.2,290.1 1560.4,281.5 1565.3,281.5 C1570.2,281.5 1577.1,290.1 1582.0,299.0 C1586.9,307.9 1590.7,324.0 1594.7,335.0 C1598.7,346.0 1602.3,354.2 1606.0,365.0 C1609.7,375.8 1612.5,387.2 1616.8,400.0 C1621.0,412.8 1626.2,428.7 1631.5,442.0 C1636.8,455.3 1642.0,465.1 1648.3,479.8 C1654.6,494.5 1662.3,514.9 1669.3,530.3 C1676.3,545.7 1682.6,558.3 1690.3,572.3 C1698.0,586.3 1706.7,601.7 1715.5,614.3 C1724.3,626.9 1733.1,636.3 1742.9,647.9 C1752.7,659.5 1763.2,672.4 1774.4,683.6 C1785.6,694.8 1798.8,705.5 1810.0,715.0 C1821.2,724.5 1829.3,731.9 1841.6,740.3 C1853.9,748.7 1868.6,756.9 1883.6,765.5 C1898.6,774.1 1913.3,783.1 1931.7,792.0 C1950.1,800.9 1983.5,814.5 1993.8,819.0" fill="none" stroke="#9a1c1c" stroke-width="5.2" stroke-linejoin="round" stroke-linecap="round" />
<polyline points="1993.8,819.0 2000.0,820.4 2005.0,821.4 2010.0,825.1 2015.0,824.4 2020.0,828.0 2025.0,829.0 2030.0,829.4 2035.0,833.0 2040.0,832.6 2045.0,836.0 2050.0,836.1 2055.0,837.8 2060.0,840.7 2065.0,843.9 2070.0,841.8 2075.0,843.5 2080.0,846.9 2085.0,849.9 2090.0,849.2 2095.0,849.5 2100.0,854.2 2105.0,849.8 2110.0,856.2 2115.0,853.8 2120.0,854.0 2125.0,854.7 2130.0,857.1 2135.0,862.0 2140.0,858.1 2145.0,862.3 2150.0,863.9 2155.0,862.6 2160.0,865.2 2165.0,861.7 2170.0,862.6 2175.0,865.0 2180.0,870.9 2185.0,869.0 2190.0,868.5 2195.0,872.4 2200.0,871.7 2205.0,870.5 2210.0,877.6 2215.0,877.3 2220.0,872.0 2225.0,877.3 2230.0,877.4 2235.0,883.5 2240.0,882.2 2245.0,875.9 2250.0,887.6 2255.0,873.6 2260.0,879.1 2265.0,885.6 2270.0,874.9 2275.0,881.6 2280.0,873.2 2285.0,886.0 2290.0,888.6 2295.0,885.1 2301.0,884.0" fill="none" stroke="#9a1c1c" stroke-width="5.2" stroke-linejoin="round"/>
<circle cx="1392" cy="251" r="8.3" fill="#d8d8d8" stroke="#555" stroke-width="5.2"/>
<circle cx="1461" cy="483" r="8.3" fill="#d8d8d8" stroke="#555" stroke-width="5.2"/>
<circle cx="1525" cy="801" r="8.3" fill="#d8d8d8" stroke="#555" stroke-width="5.2"/>
<line x1="1527.5" y1="280.0" x2="1476.0" y2="437.0" stroke="#8080ea" stroke-width="3.2" stroke-dasharray="10 4"/>
<path d="M1471.5,436 L1481,441 L1465,462 Z" fill="#2222e0" stroke="#2222e0" stroke-width="1.5" stroke-linejoin="round"/>
<line x1="1940.0" y1="748.7" x2="1888.0" y2="748.7" stroke="#9a1c1c" stroke-width="4.5" />
<path d="M1874,749 L1893,739.5 L1893,758.5 Z" fill="#9a1c1c"/>
<text x="0" y="0" transform="translate(1295.7,162.6) scale(0.8517,1)" font-family='"Liberation Sans", Arial, sans-serif' font-weight="bold" font-size="54.44" fill="#2ae02a" stroke="#2ae02a" stroke-width="0.60" stroke-linejoin="round" >12 nm</text>
<text x="0" y="0" transform="translate(1269.6,227.3) scale(0.8455,1)" font-family='"Liberation Sans", Arial, sans-serif' font-weight="bold" font-size="56.73" fill="#2ae02a" stroke="#2ae02a" stroke-width="0.60" stroke-linejoin="round" >(6.20 eV)</text>
<text x="0" y="0" transform="translate(1473.5,192.6) scale(0.8864,1)" font-family='"Liberation Sans", Arial, sans-serif' font-weight="bold" font-size="53.63" fill="#2828e4" stroke="#2828e4" stroke-width="0.60" stroke-linejoin="round" >17 nm</text>
<text x="0" y="0" transform="translate(1471.8,258.4) scale(0.9016,1)" font-family='"Liberation Sans", Arial, sans-serif' font-weight="bold" font-size="52.91" fill="#2828e4" stroke="#2828e4" stroke-width="0.60" stroke-linejoin="round" >(5.59 eV)</text>
<text x="0" y="0" transform="translate(1542.1,817.5) scale(0.9190,1)" font-family='"Liberation Sans", Arial, sans-serif' font-weight="bold" font-size="50.72" fill="#ec2a2a" stroke="#ec2a2a" stroke-width="0.60" stroke-linejoin="round" >22 nm</text>
<text x="0" y="0" transform="translate(1567.5,884.0) scale(0.9129,1)" font-family='"Liberation Sans", Arial, sans-serif' font-weight="bold" font-size="51.45" fill="#ec2a2a" stroke="#ec2a2a" stroke-width="0.60" stroke-linejoin="round" >(4.92 eV)</text>
<text x="0" y="0" transform="translate(1946.0,750.1) scale(0.9699,1)" font-family='"Liberation Sans", Arial, sans-serif' font-weight="bold" font-size="49.10" fill="#9a1c1c" stroke="#9a1c1c" stroke-width="0.60" stroke-linejoin="round" >graphene sheet</text>
<text x="0" y="0" transform="translate(2068.4,809.6) scale(0.8624,1)" font-family='"Liberation Sans", Arial, sans-serif' font-weight="bold" font-size="54.15" fill="#9a1c1c" stroke="#9a1c1c" stroke-width="0.60" stroke-linejoin="round" >(4.60 eV)</text>
<g transform="translate(209.4,1007.6)" font-family='"Liberation Serif", "Times New Roman", serif' font-weight="bold" font-size="79.62" >
<text x="0" y="0" transform="translate(2,0) scale(0.8543,1)" fill="rgb(20,255,255)" stroke="rgb(20,255,255)" stroke-width="0.80" stroke-linejoin="round" filter="url(#blrB)" style="mix-blend-mode:multiply">c</text>
<text x="0" y="0" transform="translate(0,0) scale(0.8543,1)" fill="rgb(255,15,255)" stroke="rgb(255,15,255)" stroke-width="0.80" stroke-linejoin="round" filter="url(#blrB)" style="mix-blend-mode:multiply">c</text>
<text x="0" y="0" transform="translate(-2,0) scale(0.8543,1)" fill="rgb(255,255,50)" stroke="rgb(255,255,50)" stroke-width="0.80" stroke-linejoin="round" filter="url(#blrB)" style="mix-blend-mode:multiply">c</text>
</g>
<line x1="229.5" y1="1081.5" x2="1291.0" y2="1081.5" stroke="#666" stroke-width="4.5" />
<line x1="1291.0" y1="1081.5" x2="1291.0" y2="2141.0" stroke="#333" stroke-width="4.5" />
<line x1="229.5" y1="1081.5" x2="229.5" y2="2141.0" stroke="#333" stroke-width="4.5" />
<line x1="229.5" y1="2141.0" x2="1291.0" y2="2141.0" stroke="#333" stroke-width="4.5" />
<line x1="340.9" y1="2141.0" x2="340.9" y2="2132.0" stroke="#404040" stroke-width="3.5" />
<line x1="340.9" y1="1081.5" x2="340.9" y2="1090.5" stroke="#404040" stroke-width="3.5" />
<line x1="499.4" y1="2141.0" x2="499.4" y2="2125.0" stroke="#404040" stroke-width="3.5" />
<line x1="499.4" y1="1081.5" x2="499.4" y2="1097.5" stroke="#404040" stroke-width="3.5" />
<line x1="657.9" y1="2141.0" x2="657.9" y2="2132.0" stroke="#404040" stroke-width="3.5" />
<line x1="657.9" y1="1081.5" x2="657.9" y2="1090.5" stroke="#404040" stroke-width="3.5" />
<line x1="816.4" y1="2141.0" x2="816.4" y2="2125.0" stroke="#404040" stroke-width="3.5" />
<line x1="816.4" y1="1081.5" x2="816.4" y2="1097.5" stroke="#404040" stroke-width="3.5" />
<line x1="974.9" y1="2141.0" x2="974.9" y2="2132.0" stroke="#404040" stroke-width="3.5" />
<line x1="974.9" y1="1081.5" x2="974.9" y2="1090.5" stroke="#404040" stroke-width="3.5" />
<line x1="1133.4" y1="2141.0" x2="1133.4" y2="2125.0" stroke="#404040" stroke-width="3.5" />
<line x1="1133.4" y1="1081.5" x2="1133.4" y2="1097.5" stroke="#404040" stroke-width="3.5" />
<line x1="229.5" y1="1876.0" x2="241.5" y2="1876.0" stroke="#404040" stroke-width="3.5" />
<line x1="1291.0" y1="1876.0" x2="1279.0" y2="1876.0" stroke="#404040" stroke-width="3.5" />
<line x1="229.5" y1="1611.0" x2="245.5" y2="1611.0" stroke="#404040" stroke-width="3.5" />
<line x1="1291.0" y1="1611.0" x2="1275.0" y2="1611.0" stroke="#404040" stroke-width="3.5" />
<line x1="229.5" y1="1346.0" x2="241.5" y2="1346.0" stroke="#404040" stroke-width="3.5" />
<line x1="1291.0" y1="1346.0" x2="1279.0" y2="1346.0" stroke="#404040" stroke-width="3.5" />
<text x="0" y="0" transform="translate(111.0,1149.2) scale(0.8065,1)" font-family='"Liberation Sans", Arial, sans-serif' font-weight="normal" font-size="95.27" fill="#1e1e1e" stroke="#1e1e1e" stroke-width="0.50" stroke-linejoin="round" >2.0</text>
<text x="0" y="0" transform="translate(110.2,1637.5) scale(0.8065,1)" font-family='"Liberation Sans", Arial, sans-serif' font-weight="normal" font-size="90.54" fill="#1e1e1e" stroke="#1e1e1e" stroke-width="0.50" stroke-linejoin="round" >1.0</text>
<text x="0" y="0" transform="translate(174.2,2166.6) scale(0.7834,1)" font-family='"Liberation Sans", Arial, sans-serif' font-weight="normal" font-size="90.69" fill="#1e1e1e" stroke="#1e1e1e" stroke-width="0.50" stroke-linejoin="round" >0</text>
<text x="0" y="0" transform="translate(431.9,2223.8) scale(0.8691,1)" font-family='"Liberation Sans", Arial, sans-serif' font-weight="normal" font-size="89.54" fill="#1e1e1e" stroke="#1e1e1e" stroke-width="0.50" stroke-linejoin="round" >400</text>
<text x="0" y="0" transform="translate(751.2,2223.8) scale(0.8470,1)" font-family='"Liberation Sans", Arial, sans-serif' font-weight="normal" font-size="89.54" fill="#1e1e1e" stroke="#1e1e1e" stroke-width="0.50" stroke-linejoin="round" >600</text>
<text x="0" y="0" transform="translate(1069.2,2223.8) scale(0.8537,1)" font-family='"Liberation Sans", Arial, sans-serif' font-weight="normal" font-size="89.54" fill="#1e1e1e" stroke="#1e1e1e" stroke-width="0.50" stroke-linejoin="round" >800</text>
<g transform="translate(569.9,2286.9)" font-family='"Liberation Sans", Arial, sans-serif' font-weight="bold" font-size="70.34" >
<text x="0" y="0" transform="translate(2.4,0) scale(0.9078,1)" fill="rgb(20,255,255)" stroke="rgb(20,255,255)" stroke-width="0.80" stroke-linejoin="round" filter="url(#blr)" style="mix-blend-mode:multiply">Wavelength (nm)</text>
<text x="0" y="0" transform="translate(0,0) scale(0.9078,1)" fill="rgb(255,15,255)" stroke="rgb(255,15,255)" stroke-width="0.80" stroke-linejoin="round" filter="url(#blr)" style="mix-blend-mode:multiply">Wavelength (nm)</text>
<text x="0" y="0" transform="translate(-2.4,0) scale(0.9078,1)" fill="rgb(255,255,50)" stroke="rgb(255,255,50)" stroke-width="0.80" stroke-linejoin="round" filter="url(#blr)" style="mix-blend-mode:multiply">Wavelength (nm)</text>
</g>
<g transform="translate(98.1,1903.0) rotate(-90)" font-family='"Liberation Sans", Arial, sans-serif' font-weight="bold" font-size="64.41" >
<text x="0" y="0" transform="translate(2.4,0) scale(1.0488,1)" fill="rgb(20,255,255)" stroke="rgb(20,255,255)" stroke-width="0.80" stroke-linejoin="round" filter="url(#blr)" style="mix-blend-mode:multiply">Absorption (a.u.)</text>
<text x="0" y="0" transform="translate(0,0) scale(1.0488,1)" fill="rgb(255,15,255)" stroke="rgb(255,15,255)" stroke-width="0.80" stroke-linejoin="round" filter="url(#blr)" style="mix-blend-mode:multiply">Absorption (a.u.)</text>
<text x="0" y="0" transform="translate(-2.4,0) scale(1.0488,1)" fill="rgb(255,255,50)" stroke="rgb(255,255,50)" stroke-width="0.80" stroke-linejoin="round" filter="url(#blr)" style="mix-blend-mode:multiply">Absorption (a.u.)</text>
</g>
<line x1="728.9" y1="1197.5" x2="870.0" y2="1197.5" stroke="#000" stroke-width="10" stroke-linecap="round"/>
<line x1="728.9" y1="1273.0" x2="870.0" y2="1273.0" stroke="#00ee00" stroke-width="10" stroke-linecap="round"/>
<line x1="728.9" y1="1348.0" x2="870.0" y2="1348.0" stroke="#ff0000" stroke-width="10" stroke-linecap="round"/>
<line x1="728.9" y1="1422.0" x2="870.0" y2="1422.0" stroke="#0000ff" stroke-width="10" stroke-linecap="round"/>
<text x="0" y="0" transform="translate(891.0,1225.4) scale(0.9693,1)" font-family='"Liberation Sans", Arial, sans-serif' font-weight="normal" font-size="68.69" fill="#222" stroke="#222" stroke-width="1.20" stroke-linejoin="round" >as-prepared</text>
<text x="0" y="0" transform="translate(890.6,1301.4) scale(0.8809,1)" font-family='"Liberation Sans", Arial, sans-serif' font-weight="normal" font-size="72.51" fill="#222" stroke="#222" stroke-width="1.20" stroke-linejoin="round" >fr 4</text>
<text x="0" y="0" transform="translate(890.6,1375.1) scale(0.8962,1)" font-family='"Liberation Sans", Arial, sans-serif' font-weight="normal" font-size="71.27" fill="#222" stroke="#222" stroke-width="1.20" stroke-linejoin="round" >fr 7</text>
<text x="0" y="0" transform="translate(890.6,1448.6) scale(0.9496,1)" font-family='"Liberation Sans", Arial, sans-serif' font-weight="normal" font-size="69.89" fill="#222" stroke="#222" stroke-width="1.20" stroke-linejoin="round" >fr 10</text>
<path d="M231.2,1136.0 L231.9,1138.8 L232.6,1141.6 L233.2,1144.4 L233.9,1147.2 L234.6,1150.0 L235.2,1152.8 L235.9,1155.6 L236.5,1158.4 L237.2,1161.2 L237.9,1164.0 L238.5,1166.8 L239.2,1169.7 L239.9,1172.5 L240.5,1175.3 L241.2,1178.1 L241.8,1181.0 L242.5,1183.8 L243.1,1186.6 L243.8,1189.5 L244.5,1192.3 L245.1,1195.1 L245.8,1198.0 L246.4,1200.8 L247.1,1203.7 L247.8,1206.5 L248.4,1209.4 L249.1,1212.2 L249.8,1215.1 L250.4,1217.9 L251.1,1220.8 L251.8,1223.6 L252.4,1226.5 L253.1,1229.3 L253.8,1232.2 L254.4,1235.1 L255.1,1237.9 L255.8,1240.8 L256.4,1243.6 L257.1,1246.5 L257.8,1249.4 L258.5,1252.2 L259.1,1255.1 L259.8,1258.0 L260.5,1260.9 L261.2,1263.7 L261.9,1266.6 L262.6,1269.5 L263.3,1272.3 L264.0,1275.2 L264.6,1278.1 L265.3,1281.0 L266.0,1283.8 L266.7,1286.7 L267.4,1289.6 L268.2,1292.5 L268.9,1295.3 L269.6,1298.2 L270.3,1301.1 L271.0,1304.0 L271.7,1306.8 L272.4,1309.7 L273.2,1312.6 L273.9,1315.5 L274.6,1318.3 L275.4,1321.2 L276.1,1324.1 L276.8,1327.0 L277.6,1329.8 L278.3,1332.7 L279.1,1335.6 L279.8,1338.5 L280.6,1341.3 L281.3,1344.2 L282.1,1347.1 L282.9,1349.9 L283.6,1352.8 L284.4,1355.7 L285.2,1358.6 L286.0,1361.4 L286.8,1364.3 L287.5,1367.2 L288.3,1370.0 L289.1,1372.9 L289.9,1375.7 L290.7,1378.6 L291.6,1381.5 L292.4,1384.3 L293.2,1387.2 L294.0,1390.0 L294.9,1392.9 L295.7,1395.7 L296.5,1398.6 L297.4,1401.4 L298.2,1404.3 L299.1,1407.1 L299.9,1410.0 L300.8,1412.8 L301.7,1415.6 L302.5,1418.5 L303.4,1421.3 L304.3,1424.1 L305.2,1427.0 L306.1,1429.8 L307.0,1432.6 L307.9,1435.5 L308.8,1438.3 L309.7,1441.1 L310.7,1443.9 L311.6,1446.7 L312.5,1449.5 L313.5,1452.3 L314.4,1455.2 L315.4,1458.0 L316.3,1460.8 L317.3,1463.6 L318.3,1466.4 L319.2,1469.1 L320.2,1471.9 L321.2,1474.7 L322.2,1477.5 L323.2,1480.3 L324.2,1483.1 L325.3,1485.8 L326.3,1488.6 L327.3,1491.4 L328.4,1494.2 L329.4,1496.9 L330.5,1499.7 L331.5,1502.4 L332.6,1505.2 L333.7,1507.9 L334.8,1510.7 L335.8,1513.4 L336.9,1516.1 L338.0,1518.9 L339.2,1521.6 L340.3,1524.3 L341.4,1527.1 L342.5,1529.8 L343.7,1532.5 L344.8,1535.2 L346.0,1537.9 L347.2,1540.6 L348.3,1543.3 L349.5,1546.0 L350.7,1548.7 L351.9,1551.4 L353.1,1554.1 L354.4,1556.7 L355.6,1559.4 L356.8,1562.1 L358.1,1564.7 L359.3,1567.4 L360.6,1570.0 L361.8,1572.7 L363.1,1575.3 L364.4,1578.0 L365.7,1580.6 L367.0,1583.2 L368.3,1585.9 L369.7,1588.5 L371.0,1591.1 L372.3,1593.7 L373.7,1596.3 L375.0,1598.9 L376.4,1601.5 L377.8,1604.1 L379.2,1606.7 L380.6,1609.2 L382.0,1611.8 L383.4,1614.4 L384.8,1616.9 L386.3,1619.5 L387.7,1622.0 L389.2,1624.6 L390.7,1627.1 L392.1,1629.6 L393.6,1632.2 L395.1,1634.7 L396.7,1637.2 L398.2,1639.7 L399.7,1642.2 L401.2,1644.7 L402.8,1647.2 L404.4,1649.7 L405.9,1652.1 L407.5,1654.6 L409.1,1657.1 L410.7,1659.5 L412.4,1662.0 L414.0,1664.4 L415.6,1666.9 L417.3,1669.3 L418.9,1671.7 L420.6,1674.1 L422.3,1676.5 L424.0,1678.9 L425.7,1681.3 L427.4,1683.7 L429.2,1686.1 L430.9,1688.5 L432.7,1690.8 L434.5,1693.2 L436.3,1695.5 L438.1,1697.8 L439.9,1700.2 L441.7,1702.5 L443.5,1704.7 L445.4,1707.0 L447.3,1709.3 L449.2,1711.5 L451.1,1713.7 L453.0,1716.0 L455.0,1718.2 L456.9,1720.3 L458.9,1722.5 L460.9,1724.6 L462.9,1726.7 L464.9,1728.9 L467.0,1730.9 L469.0,1733.0 L471.1,1735.0 L473.2,1737.0 L475.4,1739.0 L477.5,1741.0 L479.7,1743.0 L481.9,1744.9 L484.1,1746.8 L486.3,1748.7 L488.5,1750.5 L490.8,1752.4 L493.0,1754.2 L495.3,1756.0 L497.6,1757.8 L500.0,1759.6 L502.3,1761.3 L504.6,1763.0 L507.0,1764.7 L509.4,1766.4 L511.8,1768.1 L514.2,1769.8 L516.6,1771.4 L519.1,1773.0 L521.5,1774.6 L524.0,1776.2 L526.5,1777.7 L528.9,1779.3 L531.4,1780.8 L534.0,1782.3 L536.5,1783.8 L539.0,1785.3 L541.6,1786.8 L544.1,1788.2 L546.7,1789.7 L549.3,1791.1 L551.9,1792.5 L554.5,1793.9 L557.1,1795.3 L559.7,1796.6 L562.3,1798.0 L564.9,1799.3 L567.6,1800.6 L570.2,1801.9 L572.9,1803.2 L575.6,1804.5 L578.2,1805.8 L580.9,1807.0 L583.6,1808.3 L586.3,1809.5 L589.0,1810.7 L591.7,1812.0 L594.4,1813.2 L597.1,1814.3 L599.9,1815.5 L602.6,1816.7 L605.4,1817.8 L608.1,1819.0 L610.9,1820.1 L613.6,1821.2 L616.4,1822.3 L619.1,1823.4 L621.9,1824.5 L624.7,1825.6 L627.5,1826.7 L630.3,1827.7 L633.1,1828.8 L635.9,1829.8 L638.7,1830.9 L641.5,1831.9 L644.3,1832.9 L647.1,1833.9 L649.9,1834.9 L652.7,1835.9 L655.5,1836.9 L658.3,1837.9 L661.1,1838.8 L664.0,1839.8 L666.8,1840.8 L669.6,1841.7 L672.4,1842.6 L675.3,1843.6 L678.1,1844.5 L680.9,1845.4 L683.8,1846.3 L686.6,1847.2 L689.4,1848.2 L692.3,1849.0 L695.1,1849.9 L697.9,1850.8 L700.8,1851.7 L703.6,1852.6 L706.4,1853.4 L709.3,1854.3 L712.1,1855.1 L715.0,1856.0 L717.8,1856.8 L720.6,1857.7 L723.5,1858.5 L726.3,1859.3 L729.2,1860.1 L732.0,1860.9 L734.9,1861.7 L737.7,1862.5 L740.6,1863.3 L743.4,1864.1 L746.3,1864.9 L749.1,1865.6 L752.0,1866.4 L754.8,1867.2 L757.7,1867.9 L760.6,1868.7 L763.4,1869.4 L766.3,1870.2 L769.1,1870.9 L772.0,1871.6 L774.9,1872.3 L777.7,1873.0 L780.6,1873.7 L783.5,1874.4 L786.3,1875.1 L789.2,1875.8 L792.1,1876.5 L794.9,1877.2 L797.8,1877.9 L800.7,1878.5 L803.5,1879.2 L806.4,1879.8 L809.3,1880.5 L812.2,1881.1 L815.0,1881.8 L817.9,1882.4 L820.8,1883.0 L823.7,1883.6 L826.5,1884.3 L829.4,1884.9 L832.3,1885.5 L835.2,1886.1 L838.1,1886.7 L840.9,1887.3 L843.8,1887.8 L846.7,1888.4 L849.6,1889.0 L852.5,1889.6 L855.4,1890.1 L858.3,1890.7 L861.1,1891.2 L864.0,1891.8 L866.9,1892.3 L869.8,1892.8 L872.7,1893.4 L875.6,1893.9 L878.5,1894.4 L881.4,1894.9 L884.3,1895.4 L887.2,1895.9 L890.1,1896.4 L893.0,1896.9 L895.9,1897.4 L898.8,1897.9 L901.7,1898.4 L904.6,1898.8 L907.5,1899.3 L910.4,1899.8 L913.3,1900.2 L916.2,1900.7 L919.1,1901.1 L922.0,1901.6 L924.9,1902.0 L927.8,1902.4 L930.7,1902.9 L933.6,1903.3 L936.5,1903.7 L939.4,1904.1 L942.4,1904.5 L945.3,1904.9 L948.2,1905.3 L951.1,1905.7 L954.0,1906.1 L956.9,1906.5 L959.8,1906.9 L962.8,1907.2 L965.7,1907.6 L968.6,1908.0 L971.5,1908.3 L974.4,1908.7 L977.3,1909.0 L980.3,1909.4 L983.2,1909.7 L986.1,1910.1 L989.0,1910.4 L992.0,1910.7 L994.9,1911.0 L997.8,1911.4 L1000.7,1911.7 L1003.7,1912.0 L1006.6,1912.3 L1009.5,1912.6 L1012.4,1912.9 L1015.4,1913.2 L1018.3,1913.5 L1021.2,1913.8 L1024.2,1914.0 L1027.1,1914.3 L1030.0,1914.6 L1032.9,1914.8 L1035.9,1915.1 L1038.8,1915.4 L1041.7,1915.6 L1044.7,1915.9 L1047.6,1916.1 L1050.6,1916.4 L1053.5,1916.6 L1056.4,1916.8 L1059.4,1917.0 L1062.3,1917.3 L1065.2,1917.5 L1068.2,1917.7 L1071.1,1917.9 L1074.1,1918.1 L1077.0,1918.3 L1080.0,1918.5 L1082.9,1918.7 L1085.8,1918.9 L1088.8,1919.1 L1091.7,1919.3 L1094.7,1919.5 L1097.6,1919.6 L1100.6,1919.8 L1103.5,1920.0 L1106.5,1920.2 L1109.4,1920.3 L1112.4,1920.5 L1115.3,1920.6 L1118.3,1920.8 L1121.2,1920.9 L1124.2,1921.1 L1127.1,1921.2 L1130.1,1921.3 L1133.0,1921.5 L1136.0,1921.6 L1138.9,1921.7 L1141.9,1921.8 L1144.8,1921.9 L1147.8,1922.1 L1150.7,1922.2 L1153.7,1922.3 L1156.7,1922.4 L1159.6,1922.5 L1162.6,1922.6 L1165.5,1922.7 L1168.5,1922.7 L1171.5,1922.8 L1174.4,1922.9 L1177.4,1923.0 L1180.3,1923.1 L1183.3,1923.1 L1186.3,1923.2 L1189.2,1923.3 L1192.2,1923.3 L1195.1,1923.4 L1198.1,1923.4 L1201.1,1923.5 L1204.0,1923.5 L1207.0,1923.6 L1210.0,1923.6 L1212.9,1923.7 L1215.9,1923.7 L1218.9,1923.7 L1221.8,1923.7 L1224.8,1923.8 L1227.8,1923.8 L1230.7,1923.8 L1233.7,1923.8 L1236.7,1923.8 L1239.7,1923.9 L1242.6,1923.9 L1245.6,1923.9 L1248.6,1923.9 L1251.5,1923.9 L1254.5,1923.9 L1257.5,1923.8 L1260.5,1923.8 L1263.4,1923.8 L1266.4,1923.8 L1269.4,1923.8 L1272.4,1923.8 L1275.3,1923.7 L1278.3,1923.7 L1281.3,1923.7 L1284.3,1923.6 L1287.2,1923.6 L1290.2,1923.6" fill="none" stroke="#00ee00" stroke-width="7" stroke-linejoin="round" stroke-linecap="round" />
<line x1="1123.0" y1="1932.0" x2="1283.0" y2="1932.0" stroke="#00ee00" stroke-width="7.5" />
<path d="M253.3,1081.1 L253.3,1084.0 L253.4,1086.9 L253.4,1089.9 L253.4,1092.8 L253.5,1095.7 L253.5,1098.7 L253.6,1101.6 L253.6,1104.6 L253.6,1107.5 L253.7,1110.4 L253.7,1113.4 L253.8,1116.3 L253.8,1119.3 L253.8,1122.2 L253.9,1125.2 L253.9,1128.1 L254.0,1131.1 L254.0,1134.0 L254.0,1137.0 L254.1,1139.9 L254.1,1142.9 L254.2,1145.8 L254.2,1148.8 L254.2,1151.7 L254.3,1154.7 L254.3,1157.6 L254.4,1160.6 L254.4,1163.5 L254.5,1166.5 L254.5,1169.4 L254.5,1172.4 L254.6,1175.3 L254.6,1178.3 L254.7,1181.2 L254.7,1184.2 L254.8,1187.1 L254.8,1190.1 L254.8,1193.1 L254.9,1196.0 L254.9,1199.0 L255.0,1201.9 L255.0,1204.9 L255.1,1207.9 L255.1,1210.8 L255.2,1213.8 L255.2,1216.7 L255.3,1219.7 L255.3,1222.7 L255.3,1225.6 L255.4,1228.6 L255.4,1231.5 L255.5,1234.5 L255.5,1237.5 L255.6,1240.4 L255.6,1243.4 L255.7,1246.4 L255.7,1249.3 L255.8,1252.3 L255.8,1255.2 L255.9,1258.2 L255.9,1261.2 L256.0,1264.1 L256.0,1267.1 L256.1,1270.1 L256.1,1273.0 L256.2,1276.0 L256.2,1279.0 L256.3,1281.9 L256.3,1284.9 L256.4,1287.9 L256.4,1290.8 L256.5,1293.8 L256.5,1296.8 L256.6,1299.7 L256.7,1302.7 L256.7,1305.7 L256.8,1308.6 L256.8,1311.6 L256.9,1314.6 L256.9,1317.5 L257.0,1320.5 L257.0,1323.5 L257.1,1326.4 L257.2,1329.4 L257.2,1332.4 L257.3,1335.3 L257.3,1338.3 L257.4,1341.3 L257.5,1344.2 L257.5,1347.2 L257.6,1350.2 L257.6,1353.1 L257.7,1356.1 L257.8,1359.1 L257.8,1362.0 L257.9,1365.0 L257.9,1368.0 L258.0,1370.9 L258.1,1373.9 L258.1,1376.9 L258.2,1379.8 L258.3,1382.8 L258.3,1385.8 L258.4,1388.7 L258.5,1391.7 L258.5,1394.7 L258.6,1397.6 L258.7,1400.6 L258.7,1403.6 L258.8,1406.5 L258.9,1409.5 L258.9,1412.4 L259.0,1415.4 L259.1,1418.4 L259.2,1421.3 L259.2,1424.3 L259.3,1427.3 L259.4,1430.2 L259.4,1433.2 L259.5,1436.2 L259.6,1439.1 L259.7,1442.1 L259.7,1445.0 L259.8,1448.0 L259.9,1451.0 L260.0,1453.9 L260.1,1456.9 L260.1,1459.8 L260.2,1462.8 L260.3,1465.8 L260.4,1468.7 L260.4,1471.7 L260.5,1474.6 L260.6,1477.6 L260.7,1480.5 L260.8,1483.5 L260.9,1486.4 L260.9,1489.4 L261.0,1492.4 L261.1,1495.3 L261.2,1498.3 L261.3,1501.2 L261.4,1504.2 L261.5,1507.1 L261.6,1510.1 L261.6,1513.0 L261.7,1516.0 L261.8,1518.9 L261.9,1521.9 L262.0,1524.8 L262.1,1527.8 L262.2,1530.7 L262.3,1533.7 L262.4,1536.6 L262.5,1539.6 L262.6,1542.5 L262.7,1545.4 L262.8,1548.4 L262.9,1551.3 L263.0,1554.3 L263.1,1557.2 L263.2,1560.2 L263.3,1563.1 L263.4,1566.0 L263.5,1569.0 L263.6,1571.9 L263.7,1574.9 L263.8,1577.8 L263.9,1580.7 L264.0,1583.7 L264.1,1586.6 L264.2,1589.5 L264.3,1592.5 L264.4,1595.4 L264.5,1598.3 L264.6,1601.3 L264.7,1604.2 L264.9,1607.1 L265.0,1610.0 L265.1,1613.0 L265.2,1615.9 L265.3,1618.8 L265.4,1621.7 L265.5,1624.7 L265.7,1627.6 L265.8,1630.5 L265.9,1633.4 L266.0,1636.4 L266.1,1639.3 L266.3,1642.2 L266.4,1645.1 L266.5,1648.0 L266.6,1651.0 L266.8,1653.9 L266.9,1656.8 L267.1,1659.7 L267.2,1662.7 L267.4,1665.6 L267.6,1668.5 L267.8,1671.5 L268.0,1674.4 L268.2,1677.4 L268.5,1680.3 L268.7,1683.3 L269.0,1686.3 L269.3,1689.3 L269.6,1692.2 L270.0,1695.2 L270.4,1698.3 L270.8,1701.3 L271.2,1704.3 L271.6,1707.4 L272.1,1710.4 L272.6,1713.5 L273.2,1716.6 L273.8,1719.7 L274.4,1722.8 L275.0,1725.9 L275.7,1729.1 L276.4,1732.2 L277.2,1735.3 L278.1,1738.3 L279.1,1741.2 L280.2,1743.9 L281.4,1746.5 L282.8,1748.8 L284.3,1750.9 L286.0,1752.7 L287.9,1754.2 L290.0,1755.4 L292.2,1756.2 L294.7,1756.7 L297.3,1756.8 L299.9,1756.5 L302.7,1755.9 L305.4,1755.0 L308.2,1753.8 L310.8,1752.2 L313.4,1750.3 L315.9,1748.2 L318.3,1746.0 L320.7,1743.7 L322.9,1741.6 L325.2,1739.6 L327.4,1737.9 L329.6,1736.5 L331.8,1735.7 L334.0,1735.5 L336.2,1735.7 L338.4,1736.5 L340.5,1737.8 L342.5,1739.4 L344.5,1741.3 L346.3,1743.5 L347.9,1746.0 L349.5,1748.6 L350.8,1751.3 L352.1,1754.1 L353.2,1757.1 L354.2,1760.1 L355.1,1763.1 L356.0,1766.2 L356.9,1769.2 L357.7,1772.3 L358.5,1775.3 L359.2,1778.3 L360.0,1781.3 L360.7,1784.3 L361.4,1787.2 L362.0,1790.2 L362.7,1793.1 L363.3,1796.1 L363.9,1799.0 L364.5,1801.9 L365.1,1804.8 L365.7,1807.7 L366.3,1810.6 L366.8,1813.5 L367.4,1816.3 L368.0,1819.2 L368.5,1822.1 L369.0,1824.9 L369.6,1827.8 L370.1,1830.6 L370.7,1833.5 L371.2,1836.3 L371.8,1839.1 L372.3,1842.0 L372.9,1844.8 L373.5,1847.6 L374.1,1850.5 L374.7,1853.3 L375.3,1856.1 L375.9,1859.0 L376.6,1861.8 L377.2,1864.7 L377.9,1867.5 L378.7,1870.4 L379.4,1873.2 L380.2,1876.1 L380.9,1879.0 L381.8,1881.8 L382.6,1884.7 L383.5,1887.6 L384.4,1890.5 L385.3,1893.4 L386.3,1896.3 L387.3,1899.3 L388.4,1902.2 L389.5,1905.0 L390.8,1907.8 L392.1,1910.6 L393.5,1913.2 L395.1,1915.6 L396.9,1917.9 L398.8,1920.0 L400.9,1921.9 L403.1,1923.7 L405.4,1925.3 L407.9,1926.8 L410.4,1928.2 L413.0,1929.5 L415.6,1930.8 L418.3,1932.0 L421.1,1933.2 L423.8,1934.4 L426.5,1935.6 L429.3,1936.8 L432.0,1938.0 L434.7,1939.2 L437.4,1940.4 L440.2,1941.6 L442.9,1942.8 L445.6,1943.9 L448.4,1945.1 L451.1,1946.3 L453.9,1947.5 L456.6,1948.7 L459.3,1949.9 L462.1,1951.1 L464.8,1952.2 L467.6,1953.4 L470.3,1954.6 L473.1,1955.7 L475.8,1956.9 L478.6,1958.0 L481.4,1959.2 L484.1,1960.3 L486.9,1961.4 L489.6,1962.5 L492.4,1963.6 L495.2,1964.7 L498.0,1965.8 L500.7,1966.8 L503.5,1967.9 L506.3,1968.9 L509.1,1969.9 L511.9,1970.9 L514.7,1971.9 L517.5,1972.9 L520.3,1973.9 L523.1,1974.8 L525.9,1975.8 L528.7,1976.7 L531.5,1977.6 L534.3,1978.5 L537.1,1979.3 L540.0,1980.2 L542.8,1981.1 L545.6,1981.9 L548.4,1982.7 L551.3,1983.5 L554.1,1984.3 L557.0,1985.1 L559.8,1985.9 L562.6,1986.6 L565.5,1987.4 L568.3,1988.1 L571.2,1988.8 L574.1,1989.5 L576.9,1990.2 L579.8,1990.9 L582.6,1991.6 L585.5,1992.2 L588.4,1992.9 L591.3,1993.5 L594.1,1994.1 L597.0,1994.8 L599.9,1995.4 L602.8,1995.9 L605.7,1996.5 L608.5,1997.1 L611.4,1997.7 L614.3,1998.2 L617.2,1998.7 L620.1,1999.3 L623.0,1999.8 L625.9,2000.3 L628.8,2000.8 L631.7,2001.3 L634.6,2001.8 L637.5,2002.2 L640.5,2002.7 L643.4,2003.1 L646.3,2003.6 L649.2,2004.0 L652.1,2004.5 L655.0,2004.9 L658.0,2005.3 L660.9,2005.7 L663.8,2006.1 L666.7,2006.5 L669.7,2006.8 L672.6,2007.2 L675.5,2007.6 L678.4,2007.9 L681.4,2008.3 L684.3,2008.6 L687.3,2009.0 L690.2,2009.3 L693.1,2009.6 L696.1,2009.9 L699.0,2010.2 L702.0,2010.5 L704.9,2010.8 L707.8,2011.1 L710.8,2011.4 L713.7,2011.7 L716.7,2012.0 L719.6,2012.2 L722.6,2012.5 L725.5,2012.7 L728.5,2013.0 L731.4,2013.2 L734.4,2013.5 L737.3,2013.7 L740.3,2014.0 L743.3,2014.2 L746.2,2014.4 L749.2,2014.6 L752.1,2014.9 L755.1,2015.1 L758.0,2015.3 L761.0,2015.5 L764.0,2015.7 L766.9,2015.9 L769.9,2016.1 L772.8,2016.3 L775.8,2016.5 L778.8,2016.7 L781.7,2016.9 L784.7,2017.1 L787.7,2017.2 L790.6,2017.4 L793.6,2017.6 L796.5,2017.8 L799.5,2017.9 L802.5,2018.1 L805.4,2018.3 L808.4,2018.5 L811.3,2018.6 L814.3,2018.8 L817.3,2019.0 L820.2,2019.1 L823.2,2019.3 L826.2,2019.5 L829.1,2019.6 L832.1,2019.8 L835.0,2020.0 L838.0,2020.1 L840.9,2020.3 L843.9,2020.5 L846.9,2020.6 L849.8,2020.8 L852.8,2021.0 L855.7,2021.1 L858.7,2021.3 L861.7,2021.5 L864.6,2021.6 L867.6,2021.8 L870.5,2022.0 L873.5,2022.1 L876.4,2022.3 L879.4,2022.5 L882.3,2022.6 L885.3,2022.8 L888.3,2022.9 L891.2,2023.1 L894.2,2023.3 L897.1,2023.4 L900.1,2023.6 L903.0,2023.7 L906.0,2023.9 L908.9,2024.1 L911.9,2024.2 L914.8,2024.4 L917.8,2024.5 L920.7,2024.7 L923.7,2024.8 L926.6,2025.0 L929.6,2025.2 L932.5,2025.3 L935.5,2025.5 L938.4,2025.6 L941.4,2025.8 L944.3,2025.9 L947.3,2026.1 L950.2,2026.2 L953.2,2026.4 L956.1,2026.5 L959.1,2026.7 L962.0,2026.8 L965.0,2027.0 L967.9,2027.1 L970.9,2027.2 L973.8,2027.4 L976.8,2027.5 L979.7,2027.7 L982.7,2027.8 L985.6,2028.0 L988.6,2028.1 L991.5,2028.2 L994.5,2028.4 L997.4,2028.5 L1000.4,2028.6 L1003.3,2028.8 L1006.3,2028.9 L1009.2,2029.0 L1012.2,2029.2 L1015.1,2029.3 L1018.1,2029.4 L1021.0,2029.6 L1024.0,2029.7 L1026.9,2029.8 L1029.9,2029.9 L1032.8,2030.1 L1035.8,2030.2 L1038.7,2030.3 L1041.7,2030.4 L1044.6,2030.5 L1047.6,2030.7 L1050.5,2030.8 L1053.5,2030.9 L1056.4,2031.0 L1059.4,2031.1 L1062.3,2031.2 L1065.3,2031.3 L1068.2,2031.5 L1071.2,2031.6 L1074.1,2031.7 L1077.1,2031.8 L1080.0,2031.9 L1083.0,2032.0 L1085.9,2032.1 L1088.9,2032.2 L1091.8,2032.3 L1094.8,2032.4 L1097.7,2032.5 L1100.7,2032.6 L1103.6,2032.7 L1106.6,2032.8 L1109.5,2032.8 L1112.5,2032.9 L1115.4,2033.0 L1118.4,2033.1 L1121.3,2033.2 L1124.3,2033.3 L1127.2,2033.3 L1130.2,2033.4 L1133.1,2033.5 L1136.1,2033.6 L1139.0,2033.7 L1142.0,2033.7 L1144.9,2033.8 L1147.9,2033.9 L1150.8,2033.9 L1153.8,2034.0 L1156.7,2034.1 L1159.7,2034.1 L1162.7,2034.2 L1165.6,2034.2 L1168.6,2034.3 L1171.5,2034.3 L1174.5,2034.4 L1177.4,2034.5 L1180.4,2034.5 L1183.3,2034.5 L1186.3,2034.6 L1189.3,2034.6 L1192.2,2034.7 L1195.2,2034.7 L1198.1,2034.8 L1201.1,2034.8 L1204.1,2034.8 L1207.0,2034.9 L1210.0,2034.9 L1212.9,2034.9 L1215.9,2034.9 L1218.9,2035.0 L1221.8,2035.0 L1224.8,2035.0 L1227.7,2035.0 L1230.7,2035.0 L1233.7,2035.1 L1236.6,2035.1 L1239.6,2035.1 L1242.6,2035.1 L1245.5,2035.1 L1248.5,2035.1 L1251.4,2035.1 L1254.4,2035.1 L1257.4,2035.1 L1260.3,2035.1 L1263.3,2035.1 L1266.3,2035.1 L1269.2,2035.0 L1272.2,2035.0 L1275.2,2035.0 L1278.1,2035.0 L1281.1,2035.0 L1284.1,2034.9 L1287.1,2034.9 L1290.0,2034.9" fill="none" stroke="#ff0000" stroke-width="7" stroke-linejoin="round" stroke-linecap="round" />
<line x1="1123.0" y1="2043.0" x2="1283.0" y2="2043.0" stroke="#ff0000" stroke-width="7.5" />
<path d="M240.0,1078.2 L240.0,1081.1 L240.1,1084.0 L240.1,1087.0 L240.1,1089.9 L240.1,1092.9 L240.2,1095.8 L240.2,1098.7 L240.2,1101.7 L240.3,1104.6 L240.3,1107.6 L240.3,1110.5 L240.3,1113.5 L240.4,1116.4 L240.4,1119.4 L240.4,1122.3 L240.4,1125.3 L240.4,1128.2 L240.5,1131.2 L240.5,1134.1 L240.5,1137.1 L240.5,1140.0 L240.6,1143.0 L240.6,1145.9 L240.6,1148.9 L240.6,1151.8 L240.6,1154.8 L240.7,1157.7 L240.7,1160.7 L240.7,1163.6 L240.7,1166.6 L240.8,1169.6 L240.8,1172.5 L240.8,1175.5 L240.8,1178.4 L240.8,1181.4 L240.9,1184.3 L240.9,1187.3 L240.9,1190.3 L240.9,1193.2 L240.9,1196.2 L241.0,1199.1 L241.0,1202.1 L241.0,1205.1 L241.0,1208.0 L241.0,1211.0 L241.0,1213.9 L241.1,1216.9 L241.1,1219.9 L241.1,1222.8 L241.1,1225.8 L241.1,1228.7 L241.2,1231.7 L241.2,1234.7 L241.2,1237.6 L241.2,1240.6 L241.2,1243.6 L241.3,1246.5 L241.3,1249.5 L241.3,1252.5 L241.3,1255.4 L241.3,1258.4 L241.3,1261.4 L241.4,1264.3 L241.4,1267.3 L241.4,1270.3 L241.4,1273.2 L241.4,1276.2 L241.5,1279.2 L241.5,1282.1 L241.5,1285.1 L241.5,1288.1 L241.5,1291.0 L241.5,1294.0 L241.6,1297.0 L241.6,1299.9 L241.6,1302.9 L241.6,1305.9 L241.6,1308.9 L241.7,1311.8 L241.7,1314.8 L241.7,1317.8 L241.7,1320.7 L241.7,1323.7 L241.7,1326.7 L241.8,1329.6 L241.8,1332.6 L241.8,1335.6 L241.8,1338.6 L241.8,1341.5 L241.9,1344.5 L241.9,1347.5 L241.9,1350.4 L241.9,1353.4 L241.9,1356.4 L242.0,1359.4 L242.0,1362.3 L242.0,1365.3 L242.0,1368.3 L242.1,1371.2 L242.1,1374.2 L242.1,1377.2 L242.1,1380.2 L242.1,1383.1 L242.2,1386.1 L242.2,1389.1 L242.2,1392.0 L242.2,1395.0 L242.3,1398.0 L242.3,1401.0 L242.3,1403.9 L242.3,1406.9 L242.3,1409.9 L242.4,1412.8 L242.4,1415.8 L242.4,1418.8 L242.4,1421.7 L242.5,1424.7 L242.5,1427.7 L242.5,1430.7 L242.5,1433.6 L242.6,1436.6 L242.6,1439.6 L242.6,1442.5 L242.7,1445.5 L242.7,1448.5 L242.7,1451.5 L242.7,1454.4 L242.8,1457.4 L242.8,1460.4 L242.8,1463.3 L242.9,1466.3 L242.9,1469.3 L242.9,1472.2 L242.9,1475.2 L243.0,1478.2 L243.0,1481.1 L243.0,1484.1 L243.1,1487.1 L243.1,1490.0 L243.1,1493.0 L243.2,1496.0 L243.2,1498.9 L243.2,1501.9 L243.3,1504.9 L243.3,1507.8 L243.3,1510.8 L243.4,1513.8 L243.4,1516.7 L243.5,1519.7 L243.5,1522.7 L243.5,1525.6 L243.6,1528.6 L243.6,1531.6 L243.6,1534.5 L243.7,1537.5 L243.7,1540.5 L243.8,1543.4 L243.8,1546.4 L243.8,1549.3 L243.9,1552.3 L243.9,1555.3 L244.0,1558.2 L244.0,1561.2 L244.1,1564.2 L244.1,1567.1 L244.1,1570.1 L244.2,1573.0 L244.2,1576.0 L244.3,1579.0 L244.3,1581.9 L244.4,1584.9 L244.4,1587.8 L244.5,1590.8 L244.5,1593.7 L244.6,1596.7 L244.6,1599.7 L244.7,1602.6 L244.7,1605.6 L244.8,1608.5 L244.8,1611.5 L244.9,1614.4 L244.9,1617.4 L245.0,1620.3 L245.0,1623.3 L245.1,1626.2 L245.1,1629.2 L245.2,1632.1 L245.3,1635.1 L245.3,1638.0 L245.4,1641.0 L245.4,1643.9 L245.5,1646.9 L245.6,1649.8 L245.6,1652.8 L245.7,1655.7 L245.7,1658.7 L245.8,1661.6 L245.9,1664.6 L245.9,1667.5 L246.0,1670.4 L246.1,1673.4 L246.1,1676.3 L246.2,1679.3 L246.3,1682.2 L246.3,1685.2 L246.4,1688.1 L246.5,1691.0 L246.5,1694.0 L246.6,1696.9 L246.7,1699.9 L246.7,1702.8 L246.8,1705.8 L246.9,1708.7 L246.9,1711.6 L247.0,1714.6 L247.1,1717.5 L247.2,1720.5 L247.2,1723.4 L247.3,1726.4 L247.4,1729.3 L247.5,1732.3 L247.5,1735.2 L247.6,1738.1 L247.7,1741.1 L247.7,1744.0 L247.8,1747.0 L247.9,1749.9 L248.0,1752.9 L248.0,1755.8 L248.1,1758.8 L248.2,1761.7 L248.3,1764.7 L248.3,1767.6 L248.4,1770.6 L248.5,1773.5 L248.6,1776.5 L248.6,1779.4 L248.7,1782.4 L248.8,1785.3 L248.9,1788.3 L248.9,1791.2 L249.0,1794.2 L249.1,1797.2 L249.2,1800.1 L249.2,1803.1 L249.3,1806.0 L249.4,1809.0 L249.5,1812.0 L249.5,1814.9 L249.6,1817.9 L249.7,1820.9 L249.7,1823.8 L249.8,1826.8 L249.9,1829.8 L250.0,1832.7 L250.0,1835.7 L250.1,1838.7 L250.2,1841.7 L250.2,1844.6 L250.3,1847.6 L250.4,1850.6 L250.5,1853.6 L250.5,1856.6 L250.6,1859.6 L250.7,1862.5 L250.7,1865.5 L250.8,1868.5 L250.9,1871.5 L250.9,1874.5 L251.0,1877.5 L251.1,1880.5 L251.1,1883.5 L251.2,1886.5 L251.3,1889.5 L251.3,1892.5 L251.4,1895.5 L251.5,1898.5 L251.5,1901.5 L251.6,1904.6 L251.6,1907.6 L251.7,1910.6 L251.8,1913.6 L251.8,1916.6 L251.9,1919.7 L251.9,1922.7 L252.0,1925.7 L252.0,1928.7 L252.1,1931.8 L252.1,1934.8 L252.2,1937.9 L252.3,1940.9 L252.3,1943.9 L252.4,1947.0 L252.4,1950.0 L252.5,1953.1 L252.6,1956.1 L252.6,1959.1 L252.8,1962.2 L252.9,1965.2 L253.0,1968.2 L253.2,1971.2 L253.4,1974.2 L253.7,1977.2 L254.0,1980.1 L254.3,1983.1 L254.7,1986.0 L255.1,1988.9 L255.5,1991.8 L256.0,1994.7 L256.6,1997.5 L257.3,2000.3 L258.0,2003.1 L258.7,2005.8 L259.5,2008.6 L260.5,2011.3 L261.4,2013.9 L262.5,2016.5 L263.6,2019.1 L264.9,2021.7 L266.2,2024.1 L267.6,2026.5 L269.2,2028.7 L270.9,2030.8 L272.7,2032.8 L274.6,2034.5 L276.7,2036.0 L278.9,2037.3 L281.4,2038.3 L283.9,2039.1 L286.6,2039.6 L289.5,2039.9 L292.4,2040.1 L295.4,2040.2 L298.5,2040.1 L301.6,2040.0 L304.8,2039.8 L308.0,2039.7 L311.2,2039.5 L314.4,2039.5 L317.5,2039.5 L320.6,2039.6 L323.6,2039.8 L326.5,2040.3 L329.3,2040.9 L332.1,2041.7 L334.7,2042.7 L337.2,2043.9 L339.6,2045.3 L342.0,2046.9 L344.2,2048.6 L346.3,2050.5 L348.4,2052.5 L350.4,2054.7 L352.4,2056.9 L354.3,2059.2 L356.1,2061.6 L357.9,2064.1 L359.7,2066.6 L361.4,2069.1 L363.1,2071.7 L364.8,2074.3 L366.6,2076.8 L368.3,2079.4 L370.0,2081.9 L371.8,2084.4 L373.6,2086.9 L375.5,2089.3 L377.4,2091.6 L379.4,2093.8 L381.5,2096.0 L383.6,2098.0 L385.7,2100.0 L388.0,2101.9 L390.3,2103.6 L392.7,2105.3 L395.1,2106.9 L397.6,2108.3 L400.1,2109.6 L402.7,2110.8 L405.4,2111.9 L408.2,2112.9 L411.0,2113.8 L413.8,2114.5 L416.7,2115.2 L419.6,2115.8 L422.5,2116.4 L425.4,2117.0 L428.3,2117.5 L431.3,2118.0 L434.2,2118.5 L437.1,2118.9 L440.1,2119.4 L443.0,2119.8 L445.9,2120.3 L448.9,2120.7 L451.8,2121.1 L454.8,2121.4 L457.7,2121.8 L460.7,2122.2 L463.6,2122.5 L466.5,2122.8 L469.5,2123.1 L472.4,2123.4 L475.4,2123.7 L478.3,2124.0 L481.3,2124.3 L484.2,2124.5 L487.2,2124.8 L490.2,2125.0 L493.1,2125.2 L496.1,2125.4 L499.0,2125.6 L502.0,2125.8 L504.9,2126.0 L507.9,2126.2 L510.8,2126.4 L513.8,2126.5 L516.8,2126.7 L519.7,2126.8 L522.7,2127.0 L525.6,2127.1 L528.6,2127.2 L531.6,2127.3 L534.5,2127.4 L537.5,2127.6 L540.5,2127.7 L543.4,2127.8 L546.4,2127.8 L549.4,2127.9 L552.3,2128.0 L555.3,2128.1 L558.2,2128.2 L561.2,2128.3 L564.2,2128.3 L567.1,2128.4 L570.1,2128.5 L573.1,2128.5 L576.0,2128.6 L579.0,2128.7 L582.0,2128.7 L584.9,2128.8 L587.9,2128.8 L590.9,2128.9 L593.8,2129.0 L596.8,2129.0 L599.8,2129.1 L602.7,2129.2 L605.7,2129.2 L608.7,2129.3 L611.6,2129.3 L614.6,2129.4 L617.5,2129.5 L620.5,2129.5 L623.5,2129.6 L626.4,2129.6 L629.4,2129.7 L632.4,2129.8 L635.3,2129.8 L638.3,2129.9 L641.3,2130.0 L644.2,2130.0 L647.2,2130.1 L650.1,2130.1 L653.1,2130.2 L656.1,2130.3 L659.0,2130.3 L662.0,2130.4 L665.0,2130.5 L667.9,2130.5 L670.9,2130.6 L673.9,2130.6 L676.8,2130.7 L679.8,2130.8 L682.7,2130.8 L685.7,2130.9 L688.7,2131.0 L691.6,2131.0 L694.6,2131.1 L697.6,2131.1 L700.5,2131.2 L703.5,2131.3 L706.4,2131.3 L709.4,2131.4 L712.4,2131.5 L715.3,2131.5 L718.3,2131.6 L721.3,2131.6 L724.2,2131.7 L727.2,2131.8 L730.1,2131.8 L733.1,2131.9 L736.1,2131.9 L739.0,2132.0 L742.0,2132.1 L744.9,2132.1 L747.9,2132.2 L750.9,2132.3 L753.8,2132.3 L756.8,2132.4 L759.8,2132.4 L762.7,2132.5 L765.7,2132.6 L768.6,2132.6 L771.6,2132.7 L774.6,2132.7 L777.5,2132.8 L780.5,2132.9 L783.4,2132.9 L786.4,2133.0 L789.4,2133.0 L792.3,2133.1 L795.3,2133.2 L798.3,2133.2 L801.2,2133.3 L804.2,2133.3 L807.1,2133.4 L810.1,2133.4 L813.1,2133.5 L816.0,2133.6 L819.0,2133.6 L821.9,2133.7 L824.9,2133.7 L827.9,2133.8 L830.8,2133.9 L833.8,2133.9 L836.7,2134.0 L839.7,2134.0 L842.7,2134.1 L845.6,2134.1 L848.6,2134.2 L851.5,2134.3 L854.5,2134.3 L857.5,2134.4 L860.4,2134.4 L863.4,2134.5 L866.3,2134.5 L869.3,2134.6 L872.3,2134.6 L875.2,2134.7 L878.2,2134.8 L881.1,2134.8 L884.1,2134.9 L887.1,2134.9 L890.0,2135.0 L893.0,2135.0 L896.0,2135.1 L898.9,2135.1 L901.9,2135.2 L904.8,2135.2 L907.8,2135.3 L910.8,2135.3 L913.7,2135.4 L916.7,2135.4 L919.6,2135.5 L922.6,2135.5 L925.6,2135.6 L928.5,2135.6 L931.5,2135.7 L934.4,2135.7 L937.4,2135.8 L940.4,2135.8 L943.3,2135.9 L946.3,2135.9 L949.2,2136.0 L952.2,2136.0 L955.2,2136.1 L958.1,2136.1 L961.1,2136.2 L964.0,2136.2 L967.0,2136.3 L970.0,2136.3 L972.9,2136.4 L975.9,2136.4 L978.8,2136.5 L981.8,2136.5 L984.8,2136.6 L987.7,2136.6 L990.7,2136.6 L993.6,2136.7 L996.6,2136.7 L999.6,2136.8 L1002.5,2136.8 L1005.5,2136.9 L1008.5,2136.9 L1011.4,2136.9 L1014.4,2137.0 L1017.3,2137.0 L1020.3,2137.1 L1023.3,2137.1 L1026.2,2137.2 L1029.2,2137.2 L1032.1,2137.2 L1035.1,2137.3 L1038.1,2137.3 L1041.0,2137.3 L1044.0,2137.4 L1046.9,2137.4 L1049.9,2137.5 L1052.9,2137.5 L1055.8,2137.5 L1058.8,2137.6 L1061.8,2137.6 L1064.7,2137.6 L1067.7,2137.7 L1070.6,2137.7 L1073.6,2137.8 L1076.6,2137.8 L1079.5,2137.8 L1082.5,2137.9 L1085.5,2137.9 L1088.4,2137.9 L1091.4,2137.9 L1094.3,2138.0 L1097.3,2138.0 L1100.3,2138.0 L1103.2,2138.1 L1106.2,2138.1 L1109.1,2138.1 L1112.1,2138.2 L1115.1,2138.2 L1118.0,2138.2 L1121.0,2138.2 L1124.0,2138.3 L1126.9,2138.3 L1129.9,2138.3 L1132.8,2138.4 L1135.8,2138.4 L1138.8,2138.4 L1141.7,2138.4 L1144.7,2138.4 L1147.7,2138.5 L1150.6,2138.5 L1153.6,2138.5 L1156.6,2138.5 L1159.5,2138.6 L1162.5,2138.6 L1165.4,2138.6 L1168.4,2138.6 L1171.4,2138.6 L1174.3,2138.7 L1177.3,2138.7 L1180.3,2138.7 L1183.2,2138.7 L1186.2,2138.7 L1189.2,2138.8 L1192.1,2138.8 L1195.1,2138.8 L1198.1,2138.8 L1201.0,2138.8 L1204.0,2138.8 L1206.9,2138.8 L1209.9,2138.9 L1212.9,2138.9 L1215.8,2138.9 L1218.8,2138.9 L1221.8,2138.9 L1224.7,2138.9 L1227.7,2138.9 L1230.7,2138.9 L1233.6,2138.9 L1236.6,2138.9 L1239.6,2139.0 L1242.5,2139.0 L1245.5,2139.0 L1248.5,2139.0 L1251.4,2139.0 L1254.4,2139.0 L1257.4,2139.0 L1260.3,2139.0 L1263.3,2139.0 L1266.3,2139.0 L1269.2,2139.0 L1272.2,2139.0 L1275.2,2139.0 L1278.1,2139.0 L1281.1,2139.0 L1284.1,2139.0 L1287.0,2139.0 L1290.0,2139.0" fill="none" stroke="#0000ff" stroke-width="7" stroke-linejoin="round" stroke-linecap="round" />
<path d="M266.2,1080.0 L266.8,1082.9 L267.4,1085.7 L268.0,1088.6 L268.6,1091.5 L269.1,1094.3 L269.7,1097.2 L270.3,1100.1 L270.9,1103.0 L271.4,1105.8 L272.0,1108.7 L272.6,1111.6 L273.1,1114.5 L273.7,1117.4 L274.3,1120.3 L274.8,1123.2 L275.4,1126.1 L276.0,1129.0 L276.5,1131.9 L277.1,1134.8 L277.7,1137.7 L278.3,1140.6 L278.9,1143.5 L279.5,1146.4 L280.1,1149.3 L280.7,1152.2 L281.4,1155.1 L282.0,1158.0 L282.6,1160.9 L283.3,1163.8 L283.9,1166.7 L284.6,1169.6 L285.3,1172.4 L286.0,1175.3 L286.7,1178.2 L287.4,1181.1 L288.1,1183.9 L288.8,1186.8 L289.6,1189.6 L290.4,1192.5 L291.1,1195.3 L291.9,1198.2 L292.7,1201.0 L293.6,1203.9 L294.4,1206.7 L295.3,1209.5 L296.1,1212.3 L297.0,1215.1 L298.0,1217.9 L298.9,1220.7 L299.8,1223.5 L300.8,1226.3 L301.8,1229.0 L302.8,1231.8 L303.9,1234.5 L304.9,1237.3 L306.0,1240.0 L307.1,1242.7 L308.2,1245.4 L309.4,1248.1 L310.5,1250.8 L311.7,1253.5 L313.0,1256.1 L314.2,1258.8 L315.5,1261.4 L316.8,1264.1 L318.1,1266.7 L319.5,1269.3 L320.9,1271.9 L322.3,1274.5 L323.7,1277.1 L325.1,1279.6 L326.5,1282.2 L327.9,1284.8 L329.3,1287.4 L330.7,1290.0 L332.1,1292.5 L333.5,1295.1 L334.9,1297.7 L336.2,1300.4 L337.5,1303.0 L338.8,1305.6 L340.1,1308.3 L341.3,1310.9 L342.4,1313.6 L343.6,1316.3 L344.7,1319.0 L345.7,1321.7 L346.7,1324.5 L347.7,1327.2 L348.7,1330.0 L349.6,1332.8 L350.5,1335.6 L351.4,1338.4 L352.3,1341.2 L353.1,1344.0 L353.9,1346.8 L354.7,1349.7 L355.5,1352.5 L356.2,1355.4 L357.0,1358.2 L357.7,1361.1 L358.4,1364.0 L359.1,1366.8 L359.8,1369.7 L360.5,1372.6 L361.2,1375.5 L361.9,1378.4 L362.5,1381.3 L363.2,1384.1 L363.9,1387.0 L364.5,1389.9 L365.2,1392.8 L365.9,1395.7 L366.5,1398.6 L367.2,1401.5 L367.9,1404.4 L368.6,1407.3 L369.3,1410.2 L370.0,1413.0 L370.7,1415.9 L371.4,1418.8 L372.1,1421.6 L372.9,1424.5 L373.6,1427.3 L374.4,1430.2 L375.2,1433.0 L376.0,1435.9 L376.9,1438.7 L377.7,1441.5 L378.6,1444.3 L379.5,1447.1 L380.5,1449.9 L381.4,1452.6 L382.4,1455.4 L383.5,1458.1 L384.5,1460.9 L385.6,1463.6 L386.7,1466.3 L387.8,1469.0 L389.0,1471.7 L390.2,1474.4 L391.4,1477.1 L392.6,1479.7 L393.9,1482.4 L395.1,1485.0 L396.4,1487.6 L397.8,1490.3 L399.1,1492.9 L400.5,1495.5 L401.9,1498.1 L403.3,1500.6 L404.7,1503.2 L406.1,1505.8 L407.6,1508.3 L409.1,1510.9 L410.6,1513.4 L412.1,1516.0 L413.6,1518.5 L415.2,1521.0 L416.7,1523.5 L418.3,1526.0 L419.9,1528.5 L421.5,1531.0 L423.1,1533.5 L424.7,1536.0 L426.4,1538.4 L428.0,1540.9 L429.7,1543.3 L431.3,1545.8 L433.0,1548.2 L434.7,1550.7 L436.4,1553.1 L438.1,1555.6 L439.8,1558.0 L441.5,1560.4 L443.3,1562.8 L445.0,1565.2 L446.8,1567.6 L448.5,1570.0 L450.3,1572.3 L452.1,1574.7 L453.9,1577.1 L455.7,1579.4 L457.5,1581.7 L459.4,1584.0 L461.2,1586.3 L463.1,1588.6 L465.0,1590.9 L466.9,1593.1 L468.8,1595.4 L470.7,1597.6 L472.7,1599.8 L474.6,1602.0 L476.6,1604.1 L478.6,1606.3 L480.6,1608.4 L482.7,1610.5 L484.7,1612.6 L486.8,1614.7 L488.9,1616.7 L491.0,1618.7 L493.1,1620.7 L495.3,1622.7 L497.5,1624.7 L499.7,1626.6 L501.9,1628.5 L504.2,1630.4 L506.5,1632.2 L508.8,1634.0 L511.1,1635.8 L513.4,1637.6 L515.8,1639.3 L518.2,1641.0 L520.6,1642.7 L523.0,1644.4 L525.4,1646.1 L527.9,1647.7 L530.4,1649.3 L532.8,1650.9 L535.3,1652.5 L537.9,1654.0 L540.4,1655.6 L542.9,1657.1 L545.4,1658.6 L548.0,1660.1 L550.5,1661.6 L553.1,1663.1 L555.7,1664.6 L558.3,1666.0 L560.8,1667.4 L563.4,1668.9 L566.0,1670.3 L568.6,1671.7 L571.2,1673.1 L573.8,1674.5 L576.5,1675.8 L579.1,1677.2 L581.7,1678.5 L584.4,1679.8 L587.0,1681.2 L589.7,1682.5 L592.3,1683.8 L595.0,1685.1 L597.6,1686.3 L600.3,1687.6 L603.0,1688.9 L605.7,1690.1 L608.4,1691.3 L611.1,1692.5 L613.7,1693.8 L616.5,1695.0 L619.2,1696.1 L621.9,1697.3 L624.6,1698.5 L627.3,1699.6 L630.0,1700.8 L632.7,1701.9 L635.5,1703.1 L638.2,1704.2 L641.0,1705.3 L643.7,1706.4 L646.4,1707.5 L649.2,1708.5 L651.9,1709.6 L654.7,1710.7 L657.5,1711.7 L660.2,1712.8 L663.0,1713.8 L665.7,1714.8 L668.5,1715.8 L671.3,1716.8 L674.1,1717.8 L676.8,1718.8 L679.6,1719.8 L682.4,1720.8 L685.2,1721.7 L688.0,1722.7 L690.8,1723.6 L693.5,1724.6 L696.3,1725.5 L699.1,1726.4 L701.9,1727.3 L704.7,1728.3 L707.5,1729.1 L710.3,1730.0 L713.1,1730.9 L716.0,1731.8 L718.8,1732.7 L721.6,1733.5 L724.4,1734.4 L727.2,1735.2 L730.0,1736.0 L732.9,1736.9 L735.7,1737.7 L738.5,1738.5 L741.3,1739.3 L744.2,1740.1 L747.0,1740.9 L749.8,1741.6 L752.7,1742.4 L755.5,1743.2 L758.3,1743.9 L761.2,1744.7 L764.0,1745.4 L766.9,1746.2 L769.7,1746.9 L772.6,1747.6 L775.4,1748.3 L778.3,1749.0 L781.1,1749.7 L784.0,1750.4 L786.8,1751.1 L789.7,1751.8 L792.5,1752.5 L795.4,1753.1 L798.3,1753.8 L801.1,1754.4 L804.0,1755.1 L806.9,1755.7 L809.7,1756.4 L812.6,1757.0 L815.5,1757.6 L818.4,1758.2 L821.2,1758.8 L824.1,1759.4 L827.0,1760.0 L829.9,1760.6 L832.8,1761.2 L835.6,1761.8 L838.5,1762.3 L841.4,1762.9 L844.3,1763.5 L847.2,1764.0 L850.1,1764.6 L853.0,1765.1 L855.9,1765.6 L858.8,1766.2 L861.7,1766.7 L864.6,1767.2 L867.5,1767.7 L870.4,1768.2 L873.3,1768.7 L876.2,1769.2 L879.1,1769.7 L882.0,1770.2 L884.9,1770.7 L887.8,1771.2 L890.7,1771.6 L893.6,1772.1 L896.5,1772.5 L899.4,1773.0 L902.3,1773.4 L905.3,1773.9 L908.2,1774.3 L911.1,1774.8 L914.0,1775.2 L916.9,1775.6 L919.8,1776.0 L922.8,1776.5 L925.7,1776.9 L928.6,1777.3 L931.5,1777.7 L934.5,1778.1 L937.4,1778.5 L940.3,1778.9 L943.2,1779.2 L946.2,1779.6 L949.1,1780.0 L952.0,1780.4 L954.9,1780.7 L957.9,1781.1 L960.8,1781.5 L963.7,1781.8 L966.7,1782.2 L969.6,1782.5 L972.5,1782.9 L975.5,1783.2 L978.4,1783.5 L981.4,1783.9 L984.3,1784.2 L987.2,1784.5 L990.2,1784.8 L993.1,1785.2 L996.0,1785.5 L999.0,1785.8 L1001.9,1786.1 L1004.9,1786.4 L1007.8,1786.7 L1010.7,1787.0 L1013.7,1787.3 L1016.6,1787.6 L1019.6,1787.9 L1022.5,1788.1 L1025.5,1788.4 L1028.4,1788.7 L1031.3,1789.0 L1034.3,1789.2 L1037.2,1789.5 L1040.2,1789.8 L1043.1,1790.0 L1046.1,1790.3 L1049.0,1790.6 L1052.0,1790.8 L1054.9,1791.1 L1057.9,1791.3 L1060.8,1791.6 L1063.8,1791.8 L1066.7,1792.1 L1069.6,1792.3 L1072.6,1792.5 L1075.5,1792.8 L1078.5,1793.0 L1081.4,1793.2 L1084.4,1793.5 L1087.3,1793.7 L1090.3,1793.9 L1093.2,1794.1 L1096.2,1794.4 L1099.1,1794.6 L1102.1,1794.8 L1105.0,1795.0 L1108.0,1795.2 L1110.9,1795.5 L1113.9,1795.7 L1116.8,1795.9 L1119.8,1796.1 L1122.7,1796.3 L1125.7,1796.5 L1128.6,1796.7 L1131.5,1796.9 L1134.5,1797.1 L1137.4,1797.3 L1140.4,1797.5 L1143.3,1797.7 L1146.3,1797.9 L1149.2,1798.1 L1152.2,1798.3 L1155.1,1798.5 L1158.1,1798.7 L1161.0,1798.9 L1163.9,1799.0 L1166.9,1799.2 L1169.8,1799.4 L1172.8,1799.6 L1175.7,1799.8 L1178.7,1800.0 L1181.6,1800.2 L1184.5,1800.4 L1187.5,1800.5 L1190.4,1800.7 L1193.4,1800.9 L1196.3,1801.1 L1199.2,1801.3 L1202.2,1801.5 L1205.1,1801.6 L1208.0,1801.8 L1211.0,1802.0 L1213.9,1802.2 L1216.8,1802.4 L1219.8,1802.6 L1222.7,1802.7 L1225.6,1802.9 L1228.6,1803.1 L1231.5,1803.3 L1234.4,1803.5 L1237.4,1803.6 L1240.3,1803.8 L1243.2,1804.0 L1246.1,1804.2 L1249.1,1804.4 L1252.0,1804.6 L1254.9,1804.8 L1257.8,1804.9 L1260.7,1805.1 L1263.7,1805.3 L1266.6,1805.5 L1269.5,1805.7 L1272.4,1805.9 L1275.3,1806.1 L1278.3,1806.3 L1281.2,1806.5 L1284.1,1806.7 L1287.0,1806.9 L1289.9,1807.1" fill="none" stroke="#000" stroke-width="7" stroke-linejoin="round" stroke-linecap="round" />
<line x1="1123.0" y1="1812.0" x2="1283.0" y2="1812.0" stroke="#000" stroke-width="7.5" />
<g transform="translate(1470.4,1237.6)" font-family='"Liberation Serif", "Times New Roman", serif' font-weight="bold" font-size="66.57" >
<text x="0" y="0" transform="translate(2,0) scale(0.8700,1)" fill="rgb(20,255,255)" stroke="rgb(20,255,255)" stroke-width="0.80" stroke-linejoin="round" filter="url(#blrB)" style="mix-blend-mode:multiply">d</text>
<text x="0" y="0" transform="translate(0,0) scale(0.8700,1)" fill="rgb(255,15,255)" stroke="rgb(255,15,255)" stroke-width="0.80" stroke-linejoin="round" filter="url(#blrB)" style="mix-blend-mode:multiply">d</text>
<text x="0" y="0" transform="translate(-2,0) scale(0.8700,1)" fill="rgb(255,255,50)" stroke="rgb(255,255,50)" stroke-width="0.80" stroke-linejoin="round" filter="url(#blrB)" style="mix-blend-mode:multiply">d</text>
</g>
<line x1="1489.5" y1="1302.8" x2="2135.4" y2="1302.8" stroke="#888" stroke-width="4.5" />
<line x1="2135.4" y1="1302.8" x2="2135.4" y2="1898.3" stroke="#777" stroke-width="4.5" />
<line x1="1489.5" y1="1302.8" x2="1489.5" y2="1898.3" stroke="#333" stroke-width="4.5" />
<line x1="1489.5" y1="1898.3" x2="2135.4" y2="1898.3" stroke="#333" stroke-width="4.5" />
<line x1="1489.7" y1="1898.3" x2="1489.7" y2="1907.3" stroke="#333" stroke-width="3" />
<line x1="1535.8" y1="1898.3" x2="1535.8" y2="1904.3" stroke="#333" stroke-width="3" />
<line x1="1582.0" y1="1898.3" x2="1582.0" y2="1907.3" stroke="#333" stroke-width="3" />
<line x1="1628.1" y1="1898.3" x2="1628.1" y2="1904.3" stroke="#333" stroke-width="3" />
<line x1="1674.2" y1="1898.3" x2="1674.2" y2="1907.3" stroke="#333" stroke-width="3" />
<line x1="1720.3" y1="1898.3" x2="1720.3" y2="1904.3" stroke="#333" stroke-width="3" />
<line x1="1766.5" y1="1898.3" x2="1766.5" y2="1907.3" stroke="#333" stroke-width="3" />
<line x1="1812.6" y1="1898.3" x2="1812.6" y2="1904.3" stroke="#333" stroke-width="3" />
<line x1="1858.7" y1="1898.3" x2="1858.7" y2="1907.3" stroke="#333" stroke-width="3" />
<line x1="1904.8" y1="1898.3" x2="1904.8" y2="1904.3" stroke="#333" stroke-width="3" />
<line x1="1951.0" y1="1898.3" x2="1951.0" y2="1907.3" stroke="#333" stroke-width="3" />
<line x1="1997.1" y1="1898.3" x2="1997.1" y2="1904.3" stroke="#333" stroke-width="3" />
<line x1="2043.2" y1="1898.3" x2="2043.2" y2="1907.3" stroke="#333" stroke-width="3" />
<line x1="2089.3" y1="1898.3" x2="2089.3" y2="1904.3" stroke="#333" stroke-width="3" />
<line x1="2135.4" y1="1898.3" x2="2135.4" y2="1907.3" stroke="#333" stroke-width="3" />
<line x1="1489.5" y1="1404.5" x2="1483.0" y2="1404.5" stroke="#333" stroke-width="3" />
<line x1="1489.5" y1="1486.4" x2="1483.0" y2="1486.4" stroke="#333" stroke-width="3" />
<text x="0" y="0" transform="translate(1462.2,1949.5) scale(0.7672,1)" font-family='"Liberation Sans", Arial, sans-serif' font-weight="normal" font-size="42.98" fill="#444" stroke="#444" stroke-width="1.00" stroke-linejoin="round" >250</text>
<text x="0" y="0" transform="translate(1554.5,1949.5) scale(0.7672,1)" font-family='"Liberation Sans", Arial, sans-serif' font-weight="normal" font-size="42.98" fill="#444" stroke="#444" stroke-width="1.00" stroke-linejoin="round" >300</text>
<text x="0" y="0" transform="translate(1646.7,1949.5) scale(0.7672,1)" font-family='"Liberation Sans", Arial, sans-serif' font-weight="normal" font-size="42.98" fill="#444" stroke="#444" stroke-width="1.00" stroke-linejoin="round" >350</text>
<text x="0" y="0" transform="translate(1739.0,1949.5) scale(0.7672,1)" font-family='"Liberation Sans", Arial, sans-serif' font-weight="normal" font-size="42.98" fill="#444" stroke="#444" stroke-width="1.00" stroke-linejoin="round" >400</text>
<text x="0" y="0" transform="translate(1831.2,1949.5) scale(0.7672,1)" font-family='"Liberation Sans", Arial, sans-serif' font-weight="normal" font-size="42.98" fill="#444" stroke="#444" stroke-width="1.00" stroke-linejoin="round" >450</text>
<text x="0" y="0" transform="translate(1923.5,1949.5) scale(0.7672,1)" font-family='"Liberation Sans", Arial, sans-serif' font-weight="normal" font-size="42.98" fill="#444" stroke="#444" stroke-width="1.00" stroke-linejoin="round" >500</text>
<text x="0" y="0" transform="translate(2015.7,1949.5) scale(0.7672,1)" font-family='"Liberation Sans", Arial, sans-serif' font-weight="normal" font-size="42.98" fill="#444" stroke="#444" stroke-width="1.00" stroke-linejoin="round" >550</text>
<text x="0" y="0" transform="translate(2107.9,1949.5) scale(0.7672,1)" font-family='"Liberation Sans", Arial, sans-serif' font-weight="normal" font-size="42.98" fill="#444" stroke="#444" stroke-width="1.00" stroke-linejoin="round" >600</text>
<g transform="translate(1601.0,2013.8)" font-family='"Liberation Sans", Arial, sans-serif' font-weight="bold" font-size="56.00" >
<text x="0" y="0" transform="translate(2.4,0) scale(0.9745,1)" fill="rgb(20,255,255)" stroke="rgb(20,255,255)" stroke-width="0.80" stroke-linejoin="round" filter="url(#blr)" style="mix-blend-mode:multiply">Wavelength (nm)</text>
<text x="0" y="0" transform="translate(0,0) scale(0.9745,1)" fill="rgb(255,15,255)" stroke="rgb(255,15,255)" stroke-width="0.80" stroke-linejoin="round" filter="url(#blr)" style="mix-blend-mode:multiply">Wavelength (nm)</text>
<text x="0" y="0" transform="translate(-2.4,0) scale(0.9745,1)" fill="rgb(255,255,50)" stroke="rgb(255,255,50)" stroke-width="0.80" stroke-linejoin="round" filter="url(#blr)" style="mix-blend-mode:multiply">Wavelength (nm)</text>
</g>
<g transform="translate(1439.6,1874.0) rotate(-90)" font-family='"Liberation Sans", Arial, sans-serif' font-weight="bold" font-size="53.10" >
<text x="0" y="0" transform="translate(2.4,0) scale(1.1268,1)" fill="rgb(20,255,255)" stroke="rgb(20,255,255)" stroke-width="0.80" stroke-linejoin="round" filter="url(#blr)" style="mix-blend-mode:multiply">Absorbance (a.u.)</text>
<text x="0" y="0" transform="translate(0,0) scale(1.1268,1)" fill="rgb(255,15,255)" stroke="rgb(255,15,255)" stroke-width="0.80" stroke-linejoin="round" filter="url(#blr)" style="mix-blend-mode:multiply">Absorbance (a.u.)</text>
<text x="0" y="0" transform="translate(-2.4,0) scale(1.1268,1)" fill="rgb(255,255,50)" stroke="rgb(255,255,50)" stroke-width="0.80" stroke-linejoin="round" filter="url(#blr)" style="mix-blend-mode:multiply">Absorbance (a.u.)</text>
</g>
<circle cx="1582.1" cy="1372.0" r="2.8" fill="#e6a0b0"/>
<circle cx="1582.3" cy="1391.0" r="2.8" fill="#e6a0b0"/>
<circle cx="1582.5" cy="1410.0" r="2.8" fill="#e6a0b0"/>
<circle cx="1582.7" cy="1429.0" r="2.8" fill="#e6a0b0"/>
<circle cx="1582.9" cy="1448.0" r="2.8" fill="#e6a0b0"/>
<circle cx="1583.1" cy="1467.0" r="2.8" fill="#e6a0b0"/>
<circle cx="1583.3" cy="1486.0" r="2.8" fill="#e6a0b0"/>
<circle cx="1583.5" cy="1505.0" r="2.8" fill="#e6a0b0"/>
<circle cx="1583.8" cy="1524.0" r="2.8" fill="#e6a0b0"/>
<circle cx="1584.0" cy="1543.0" r="2.8" fill="#e6a0b0"/>
<circle cx="1584.2" cy="1562.0" r="2.8" fill="#e6a0b0"/>
<circle cx="1584.4" cy="1581.0" r="2.8" fill="#e6a0b0"/>
<circle cx="1584.6" cy="1600.0" r="2.8" fill="#e6a0b0"/>
<circle cx="1584.8" cy="1619.0" r="2.8" fill="#e6a0b0"/>
<circle cx="1585.0" cy="1638.0" r="2.8" fill="#e6a0b0"/>
<circle cx="1585.2" cy="1657.0" r="2.8" fill="#e6a0b0"/>
<circle cx="1585.4" cy="1676.0" r="2.8" fill="#e6a0b0"/>
<circle cx="1585.7" cy="1695.0" r="2.8" fill="#e6a0b0"/>
<circle cx="1585.9" cy="1714.0" r="2.8" fill="#e6a0b0"/>
<circle cx="1586.1" cy="1733.0" r="2.8" fill="#e6a0b0"/>
<circle cx="1586.3" cy="1752.0" r="2.8" fill="#e6a0b0"/>
<circle cx="1586.5" cy="1771.0" r="2.8" fill="#e6a0b0"/>
<circle cx="1586.7" cy="1790.0" r="2.8" fill="#e6a0b0"/>
<circle cx="1586.9" cy="1809.0" r="2.8" fill="#e6a0b0"/>
<path d="M1496.6,1303.0 C1498.2,1309.7 1502.3,1329.8 1506.0,1343.0 C1509.7,1356.2 1514.4,1369.3 1518.6,1382.4 C1522.8,1395.5 1527.3,1412.9 1531.0,1421.8 C1534.7,1430.7 1537.0,1433.4 1540.7,1436.0 C1544.4,1438.6 1548.0,1437.3 1553.3,1437.6 C1558.5,1437.9 1567.0,1436.0 1572.2,1437.6 C1577.5,1439.2 1580.6,1441.8 1584.8,1447.0 C1589.0,1452.2 1593.5,1458.8 1597.4,1469.0 C1601.4,1479.2 1604.6,1495.4 1608.5,1508.5 C1612.4,1521.6 1616.3,1534.8 1621.0,1547.8 C1625.7,1560.8 1631.1,1576.1 1636.6,1586.3 C1642.1,1596.5 1647.1,1602.1 1654.0,1609.0 C1660.9,1615.9 1668.3,1623.0 1678.0,1627.7 C1687.7,1632.5 1699.6,1634.7 1712.0,1637.5 C1724.4,1640.3 1732.0,1641.8 1752.5,1644.3 C1773.0,1646.8 1807.4,1650.5 1835.3,1652.5 C1863.2,1654.5 1892.4,1655.0 1920.0,1656.0 C1947.6,1657.0 1975.8,1658.0 2000.8,1658.8 C2025.8,1659.6 2047.6,1660.3 2070.0,1661.0 C2092.4,1661.7 2124.5,1662.7 2135.4,1663.0" fill="none" stroke="#3aa89c" stroke-width="4" stroke-linejoin="round" stroke-linecap="round" />
<path d="M1490.0,1414.0 C1491.1,1423.2 1494.2,1454.0 1496.6,1469.0 C1499.0,1484.0 1500.8,1493.7 1504.5,1503.7 C1508.2,1513.7 1514.4,1520.3 1518.6,1529.0 C1522.8,1537.7 1526.0,1549.2 1529.7,1555.7 C1533.4,1562.2 1536.8,1567.0 1540.7,1568.3 C1544.6,1569.6 1548.6,1565.2 1553.3,1563.6 C1558.0,1562.0 1564.3,1558.9 1569.0,1558.9 C1573.7,1558.9 1578.0,1560.8 1581.7,1563.6 C1585.4,1566.4 1586.0,1563.9 1591.0,1576.0 C1596.0,1588.1 1605.6,1616.8 1611.8,1636.0 C1618.0,1655.2 1622.5,1679.7 1628.0,1691.4 C1633.5,1703.1 1638.0,1702.3 1644.9,1706.4 C1651.9,1710.5 1658.7,1712.6 1669.7,1716.0 C1680.7,1719.4 1697.2,1724.2 1711.0,1727.0 C1724.8,1729.8 1731.8,1731.1 1752.5,1732.8 C1773.2,1734.5 1807.4,1736.4 1835.3,1737.4 C1863.2,1738.4 1887.5,1738.5 1920.0,1739.0 C1952.5,1739.5 1994.1,1739.9 2030.0,1740.2 C2065.9,1740.5 2117.8,1740.9 2135.4,1741.0" fill="none" stroke="#5560b0" stroke-width="4" stroke-linejoin="round" stroke-linecap="round" />
<path d="M1489.7,1687.0 C1491.4,1698.1 1496.3,1739.7 1500.0,1753.5 C1503.7,1767.3 1507.8,1766.6 1512.0,1770.0 C1516.2,1773.4 1517.9,1775.4 1524.9,1774.0 C1531.9,1772.6 1543.5,1767.6 1553.8,1761.8 C1564.1,1756.0 1577.3,1739.0 1587.0,1739.0 C1596.7,1739.0 1602.8,1753.2 1611.8,1761.8 C1620.8,1770.4 1629.8,1786.2 1640.8,1790.7 C1651.8,1795.2 1666.3,1787.3 1678.0,1788.7 C1689.7,1790.1 1698.6,1794.9 1711.0,1799.0 C1723.4,1803.1 1739.3,1810.8 1752.5,1813.5 C1765.7,1816.2 1776.2,1814.7 1790.0,1815.0 C1803.8,1815.3 1813.6,1815.4 1835.3,1815.6 C1857.0,1815.8 1887.5,1816.0 1920.0,1816.2 C1952.5,1816.4 1994.1,1816.8 2030.0,1817.0 C2065.9,1817.2 2117.8,1817.5 2135.4,1817.6" fill="none" stroke="#e26068" stroke-width="4" stroke-linejoin="round" stroke-linecap="round" />
<path d="M1489.5,1484.8 C1490.1,1492.3 1491.2,1515.1 1493.0,1530.0 C1494.8,1544.9 1496.1,1554.3 1500.0,1574.0 C1503.9,1593.7 1509.7,1632.9 1516.6,1648.4 C1523.5,1663.9 1534.2,1665.1 1541.4,1667.0 C1548.6,1668.9 1553.8,1663.5 1560.0,1660.0 C1566.2,1656.5 1572.8,1645.5 1578.7,1646.3 C1584.6,1647.1 1591.1,1657.5 1595.2,1665.0 C1599.3,1672.5 1600.7,1683.1 1603.5,1691.4 C1606.3,1699.7 1609.0,1706.1 1611.8,1715.0 C1614.5,1723.9 1615.9,1733.1 1620.0,1745.0 C1624.1,1756.9 1628.3,1774.8 1636.6,1786.6 C1644.9,1798.4 1653.8,1805.9 1669.7,1815.6 C1685.6,1825.2 1711.1,1837.3 1731.8,1844.5 C1752.5,1851.7 1773.3,1855.0 1794.0,1859.0 C1814.7,1863.0 1835.3,1865.7 1856.0,1868.5 C1876.7,1871.3 1897.3,1873.6 1918.0,1875.6 C1938.7,1877.6 1959.3,1879.1 1980.0,1880.5 C2000.7,1881.9 2016.1,1883.2 2042.0,1883.9 C2067.9,1884.7 2119.8,1884.8 2135.4,1885.0" fill="none" stroke="#2a2a2a" stroke-width="3.6" stroke-linejoin="round" stroke-linecap="round" />
<text x="0" y="0" transform="translate(2034.4,1633.6) scale(0.8227,1)" font-family='"Liberation Sans", Arial, sans-serif' font-weight="normal" font-size="40.40" fill="#3aa89c" stroke="#3aa89c" stroke-width="0.80" stroke-linejoin="round" >GQD5</text>
<text x="0" y="0" transform="translate(2032.4,1713.6) scale(0.8227,1)" font-family='"Liberation Sans", Arial, sans-serif' font-weight="normal" font-size="40.40" fill="#5560b0" stroke="#5560b0" stroke-width="0.80" stroke-linejoin="round" >GQD6</text>
<text x="0" y="0" transform="translate(2028.2,1792.4) scale(0.8245,1)" font-family='"Liberation Sans", Arial, sans-serif' font-weight="normal" font-size="40.40" fill="#e26068" stroke="#e26068" stroke-width="0.80" stroke-linejoin="round" >GQD4</text>
<text x="0" y="0" transform="translate(2028.2,1866.9) scale(0.8245,1)" font-family='"Liberation Sans", Arial, sans-serif' font-weight="normal" font-size="40.40" fill="#3a3a3a" stroke="#3a3a3a" stroke-width="0.80" stroke-linejoin="round" >GOD3</text>
</svg>
</body></html>
